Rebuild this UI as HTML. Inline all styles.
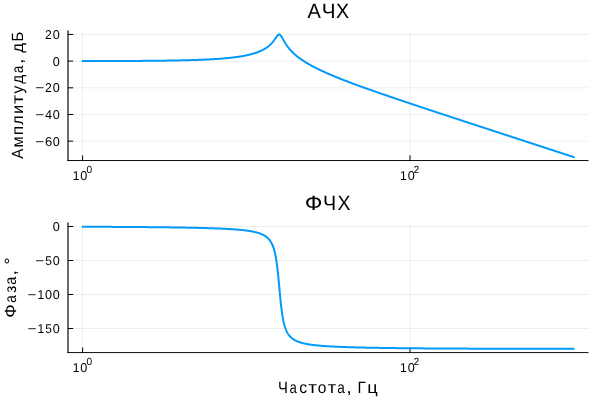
<!DOCTYPE html><html><head><meta charset="utf-8"><style>html,body{margin:0;padding:0;background:#fff;overflow:hidden}svg{display:block;will-change:transform}text{font-family:"Liberation Sans",sans-serif;fill:#000;text-rendering:geometricPrecision}</style></head><body>
<svg width="600" height="400" viewBox="0 0 600 400">
<rect width="600" height="400" fill="#fff"/>
<g stroke="#000" stroke-opacity="0.065" stroke-width="1.0"><line x1="82.60" y1="30.5" x2="82.60" y2="160.52"/><line x1="410.00" y1="30.5" x2="410.00" y2="160.52"/><line x1="68.0" y1="34.44" x2="588.5" y2="34.44"/><line x1="68.0" y1="61.12" x2="588.5" y2="61.12"/><line x1="68.0" y1="87.80" x2="588.5" y2="87.80"/><line x1="68.0" y1="114.49" x2="588.5" y2="114.49"/><line x1="68.0" y1="141.17" x2="588.5" y2="141.17"/></g>
<g stroke="#000" fill="none"><path stroke-width="1.17" d="M68.0 30.5V161.02"/><path stroke-width="0.95" d="M67.5 160.52H588.5"/>
<path stroke-width="1.0" d="M82.60 160.52V155.32M410.00 160.52V155.32M68.0 34.44H73.20M68.0 61.12H73.20M68.0 87.80H73.20M68.0 114.49H73.20M68.0 141.17H73.20"/></g>
<polyline fill="none" stroke="#009AFA" stroke-width="2.0" stroke-linejoin="round" stroke-linecap="round" points="82.60,61.07 82.76,61.07 82.93,61.07 83.09,61.07 83.26,61.07 83.42,61.07 83.58,61.07 83.75,61.07 83.91,61.07 84.07,61.07 84.24,61.07 84.40,61.07 84.57,61.07 84.73,61.07 84.89,61.07 85.06,61.07 85.22,61.07 85.38,61.07 85.55,61.07 85.71,61.07 85.88,61.07 86.04,61.07 86.20,61.07 86.37,61.07 86.53,61.07 86.69,61.07 86.86,61.07 87.02,61.07 87.19,61.07 87.35,61.07 87.51,61.07 87.68,61.07 87.84,61.07 88.00,61.07 88.17,61.07 88.33,61.07 88.50,61.07 88.66,61.07 88.82,61.07 88.99,61.07 89.15,61.07 89.31,61.06 89.48,61.06 89.64,61.06 89.81,61.06 89.97,61.06 90.13,61.06 90.30,61.06 90.46,61.06 90.62,61.06 90.79,61.06 90.95,61.06 91.12,61.06 91.28,61.06 91.44,61.06 91.61,61.06 91.77,61.06 91.93,61.06 92.10,61.06 92.26,61.06 92.43,61.06 92.59,61.06 92.75,61.06 92.92,61.06 93.08,61.06 93.24,61.06 93.41,61.06 93.57,61.06 93.74,61.06 93.90,61.06 94.06,61.06 94.23,61.06 94.39,61.06 94.55,61.06 94.72,61.06 94.88,61.06 95.05,61.06 95.21,61.05 95.37,61.05 95.54,61.05 95.70,61.05 95.86,61.05 96.03,61.05 96.19,61.05 96.36,61.05 96.52,61.05 96.68,61.05 96.85,61.05 97.01,61.05 97.17,61.05 97.34,61.05 97.50,61.05 97.67,61.05 97.83,61.05 97.99,61.05 98.16,61.05 98.32,61.05 98.48,61.05 98.65,61.05 98.81,61.05 98.98,61.05 99.14,61.05 99.30,61.05 99.47,61.05 99.63,61.05 99.79,61.05 99.96,61.05 100.12,61.05 100.29,61.04 100.45,61.04 100.61,61.04 100.78,61.04 100.94,61.04 101.10,61.04 101.27,61.04 101.43,61.04 101.60,61.04 101.76,61.04 101.92,61.04 102.09,61.04 102.25,61.04 102.41,61.04 102.58,61.04 102.74,61.04 102.91,61.04 103.07,61.04 103.23,61.04 103.40,61.04 103.56,61.04 103.72,61.04 103.89,61.04 104.05,61.04 104.22,61.04 104.38,61.04 104.54,61.04 104.71,61.03 104.87,61.03 105.03,61.03 105.20,61.03 105.36,61.03 105.53,61.03 105.69,61.03 105.85,61.03 106.02,61.03 106.18,61.03 106.34,61.03 106.51,61.03 106.67,61.03 106.84,61.03 107.00,61.03 107.16,61.03 107.33,61.03 107.49,61.03 107.65,61.03 107.82,61.03 107.98,61.03 108.15,61.03 108.31,61.03 108.47,61.03 108.64,61.02 108.80,61.02 108.96,61.02 109.13,61.02 109.29,61.02 109.46,61.02 109.62,61.02 109.78,61.02 109.95,61.02 110.11,61.02 110.27,61.02 110.44,61.02 110.60,61.02 110.77,61.02 110.93,61.02 111.09,61.02 111.26,61.02 111.42,61.02 111.58,61.02 111.75,61.02 111.91,61.02 112.08,61.02 112.24,61.01 112.40,61.01 112.57,61.01 112.73,61.01 112.89,61.01 113.06,61.01 113.22,61.01 113.39,61.01 113.55,61.01 113.71,61.01 113.88,61.01 114.04,61.01 114.20,61.01 114.37,61.01 114.53,61.01 114.70,61.01 114.86,61.01 115.02,61.01 115.19,61.01 115.35,61.01 115.51,61.00 115.68,61.00 115.84,61.00 116.01,61.00 116.17,61.00 116.33,61.00 116.50,61.00 116.66,61.00 116.82,61.00 116.99,61.00 117.15,61.00 117.32,61.00 117.48,61.00 117.64,61.00 117.81,61.00 117.97,61.00 118.13,61.00 118.30,61.00 118.46,60.99 118.63,60.99 118.79,60.99 118.95,60.99 119.12,60.99 119.28,60.99 119.44,60.99 119.61,60.99 119.77,60.99 119.94,60.99 120.10,60.99 120.26,60.99 120.43,60.99 120.59,60.99 120.75,60.99 120.92,60.99 121.08,60.98 121.25,60.98 121.41,60.98 121.57,60.98 121.74,60.98 121.90,60.98 122.06,60.98 122.23,60.98 122.39,60.98 122.56,60.98 122.72,60.98 122.88,60.98 123.05,60.98 123.21,60.98 123.37,60.98 123.54,60.98 123.70,60.97 123.87,60.97 124.03,60.97 124.19,60.97 124.36,60.97 124.52,60.97 124.68,60.97 124.85,60.97 125.01,60.97 125.18,60.97 125.34,60.97 125.50,60.97 125.67,60.97 125.83,60.97 125.99,60.96 126.16,60.96 126.32,60.96 126.49,60.96 126.65,60.96 126.81,60.96 126.98,60.96 127.14,60.96 127.31,60.96 127.47,60.96 127.63,60.96 127.80,60.96 127.96,60.96 128.12,60.96 128.29,60.95 128.45,60.95 128.62,60.95 128.78,60.95 128.94,60.95 129.11,60.95 129.27,60.95 129.43,60.95 129.60,60.95 129.76,60.95 129.93,60.95 130.09,60.95 130.25,60.94 130.42,60.94 130.58,60.94 130.74,60.94 130.91,60.94 131.07,60.94 131.24,60.94 131.40,60.94 131.56,60.94 131.73,60.94 131.89,60.94 132.05,60.94 132.22,60.93 132.38,60.93 132.55,60.93 132.71,60.93 132.87,60.93 133.04,60.93 133.20,60.93 133.36,60.93 133.53,60.93 133.69,60.93 133.86,60.93 134.02,60.92 134.18,60.92 134.35,60.92 134.51,60.92 134.67,60.92 134.84,60.92 135.00,60.92 135.17,60.92 135.33,60.92 135.49,60.92 135.66,60.92 135.82,60.91 135.98,60.91 136.15,60.91 136.31,60.91 136.48,60.91 136.64,60.91 136.80,60.91 136.97,60.91 137.13,60.91 137.29,60.91 137.46,60.91 137.62,60.90 137.79,60.90 137.95,60.90 138.11,60.90 138.28,60.90 138.44,60.90 138.60,60.90 138.77,60.90 138.93,60.90 139.10,60.89 139.26,60.89 139.42,60.89 139.59,60.89 139.75,60.89 139.91,60.89 140.08,60.89 140.24,60.89 140.41,60.89 140.57,60.89 140.73,60.88 140.90,60.88 141.06,60.88 141.22,60.88 141.39,60.88 141.55,60.88 141.72,60.88 141.88,60.88 142.04,60.88 142.21,60.87 142.37,60.87 142.53,60.87 142.70,60.87 142.86,60.87 143.03,60.87 143.19,60.87 143.35,60.87 143.52,60.86 143.68,60.86 143.84,60.86 144.01,60.86 144.17,60.86 144.34,60.86 144.50,60.86 144.66,60.86 144.83,60.85 144.99,60.85 145.15,60.85 145.32,60.85 145.48,60.85 145.65,60.85 145.81,60.85 145.97,60.85 146.14,60.84 146.30,60.84 146.46,60.84 146.63,60.84 146.79,60.84 146.96,60.84 147.12,60.84 147.28,60.84 147.45,60.83 147.61,60.83 147.77,60.83 147.94,60.83 148.10,60.83 148.27,60.83 148.43,60.83 148.59,60.82 148.76,60.82 148.92,60.82 149.08,60.82 149.25,60.82 149.41,60.82 149.58,60.82 149.74,60.82 149.90,60.81 150.07,60.81 150.23,60.81 150.39,60.81 150.56,60.81 150.72,60.81 150.89,60.80 151.05,60.80 151.21,60.80 151.38,60.80 151.54,60.80 151.70,60.80 151.87,60.80 152.03,60.79 152.20,60.79 152.36,60.79 152.52,60.79 152.69,60.79 152.85,60.79 153.01,60.79 153.18,60.78 153.34,60.78 153.51,60.78 153.67,60.78 153.83,60.78 154.00,60.78 154.16,60.77 154.32,60.77 154.49,60.77 154.65,60.77 154.82,60.77 154.98,60.77 155.14,60.76 155.31,60.76 155.47,60.76 155.63,60.76 155.80,60.76 155.96,60.76 156.13,60.75 156.29,60.75 156.45,60.75 156.62,60.75 156.78,60.75 156.94,60.75 157.11,60.74 157.27,60.74 157.44,60.74 157.60,60.74 157.76,60.74 157.93,60.73 158.09,60.73 158.25,60.73 158.42,60.73 158.58,60.73 158.75,60.73 158.91,60.72 159.07,60.72 159.24,60.72 159.40,60.72 159.56,60.72 159.73,60.71 159.89,60.71 160.06,60.71 160.22,60.71 160.38,60.71 160.55,60.70 160.71,60.70 160.87,60.70 161.04,60.70 161.20,60.70 161.37,60.69 161.53,60.69 161.69,60.69 161.86,60.69 162.02,60.69 162.18,60.68 162.35,60.68 162.51,60.68 162.68,60.68 162.84,60.68 163.00,60.67 163.17,60.67 163.33,60.67 163.49,60.67 163.66,60.67 163.82,60.66 163.99,60.66 164.15,60.66 164.31,60.66 164.48,60.66 164.64,60.65 164.80,60.65 164.97,60.65 165.13,60.65 165.30,60.64 165.46,60.64 165.62,60.64 165.79,60.64 165.95,60.64 166.11,60.63 166.28,60.63 166.44,60.63 166.61,60.63 166.77,60.62 166.93,60.62 167.10,60.62 167.26,60.62 167.42,60.61 167.59,60.61 167.75,60.61 167.92,60.61 168.08,60.60 168.24,60.60 168.41,60.60 168.57,60.60 168.73,60.59 168.90,60.59 169.06,60.59 169.23,60.59 169.39,60.58 169.55,60.58 169.72,60.58 169.88,60.58 170.04,60.57 170.21,60.57 170.37,60.57 170.54,60.57 170.70,60.56 170.86,60.56 171.03,60.56 171.19,60.56 171.35,60.55 171.52,60.55 171.68,60.55 171.85,60.55 172.01,60.54 172.17,60.54 172.34,60.54 172.50,60.53 172.67,60.53 172.83,60.53 172.99,60.53 173.16,60.52 173.32,60.52 173.48,60.52 173.65,60.51 173.81,60.51 173.98,60.51 174.14,60.51 174.30,60.50 174.47,60.50 174.63,60.50 174.79,60.49 174.96,60.49 175.12,60.49 175.29,60.49 175.45,60.48 175.61,60.48 175.78,60.48 175.94,60.47 176.10,60.47 176.27,60.47 176.43,60.46 176.60,60.46 176.76,60.46 176.92,60.45 177.09,60.45 177.25,60.45 177.41,60.45 177.58,60.44 177.74,60.44 177.91,60.44 178.07,60.43 178.23,60.43 178.40,60.43 178.56,60.42 178.72,60.42 178.89,60.42 179.05,60.41 179.22,60.41 179.38,60.41 179.54,60.40 179.71,60.40 179.87,60.40 180.03,60.39 180.20,60.39 180.36,60.39 180.53,60.38 180.69,60.38 180.85,60.37 181.02,60.37 181.18,60.37 181.34,60.36 181.51,60.36 181.67,60.36 181.84,60.35 182.00,60.35 182.16,60.35 182.33,60.34 182.49,60.34 182.65,60.33 182.82,60.33 182.98,60.33 183.15,60.32 183.31,60.32 183.47,60.32 183.64,60.31 183.80,60.31 183.96,60.30 184.13,60.30 184.29,60.30 184.46,60.29 184.62,60.29 184.78,60.28 184.95,60.28 185.11,60.28 185.27,60.27 185.44,60.27 185.60,60.26 185.77,60.26 185.93,60.26 186.09,60.25 186.26,60.25 186.42,60.24 186.58,60.24 186.75,60.23 186.91,60.23 187.08,60.23 187.24,60.22 187.40,60.22 187.57,60.21 187.73,60.21 187.89,60.20 188.06,60.20 188.22,60.20 188.39,60.19 188.55,60.19 188.71,60.18 188.88,60.18 189.04,60.17 189.20,60.17 189.37,60.16 189.53,60.16 189.70,60.16 189.86,60.15 190.02,60.15 190.19,60.14 190.35,60.14 190.51,60.13 190.68,60.13 190.84,60.12 191.01,60.12 191.17,60.11 191.33,60.11 191.50,60.10 191.66,60.10 191.82,60.09 191.99,60.09 192.15,60.08 192.32,60.08 192.48,60.07 192.64,60.07 192.81,60.06 192.97,60.06 193.13,60.05 193.30,60.05 193.46,60.04 193.63,60.04 193.79,60.03 193.95,60.03 194.12,60.02 194.28,60.02 194.44,60.01 194.61,60.01 194.77,60.00 194.94,59.99 195.10,59.99 195.26,59.98 195.43,59.98 195.59,59.97 195.75,59.97 195.92,59.96 196.08,59.96 196.25,59.95 196.41,59.94 196.57,59.94 196.74,59.93 196.90,59.93 197.06,59.92 197.23,59.92 197.39,59.91 197.56,59.90 197.72,59.90 197.88,59.89 198.05,59.89 198.21,59.88 198.37,59.87 198.54,59.87 198.70,59.86 198.87,59.86 199.03,59.85 199.19,59.84 199.36,59.84 199.52,59.83 199.68,59.82 199.85,59.82 200.01,59.81 200.18,59.81 200.34,59.80 200.50,59.79 200.67,59.79 200.83,59.78 200.99,59.77 201.16,59.77 201.32,59.76 201.49,59.75 201.65,59.75 201.81,59.74 201.98,59.73 202.14,59.73 202.30,59.72 202.47,59.71 202.63,59.71 202.80,59.70 202.96,59.69 203.12,59.68 203.29,59.68 203.45,59.67 203.61,59.66 203.78,59.66 203.94,59.65 204.11,59.64 204.27,59.63 204.43,59.63 204.60,59.62 204.76,59.61 204.92,59.60 205.09,59.60 205.25,59.59 205.42,59.58 205.58,59.57 205.74,59.57 205.91,59.56 206.07,59.55 206.23,59.54 206.40,59.54 206.56,59.53 206.73,59.52 206.89,59.51 207.05,59.50 207.22,59.50 207.38,59.49 207.54,59.48 207.71,59.47 207.87,59.46 208.04,59.46 208.20,59.45 208.36,59.44 208.53,59.43 208.69,59.42 208.85,59.41 209.02,59.41 209.18,59.40 209.35,59.39 209.51,59.38 209.67,59.37 209.84,59.36 210.00,59.35 210.16,59.34 210.33,59.34 210.49,59.33 210.66,59.32 210.82,59.31 210.98,59.30 211.15,59.29 211.31,59.28 211.47,59.27 211.64,59.26 211.80,59.25 211.97,59.24 212.13,59.24 212.29,59.23 212.46,59.22 212.62,59.21 212.78,59.20 212.95,59.19 213.11,59.18 213.28,59.17 213.44,59.16 213.60,59.15 213.77,59.14 213.93,59.13 214.09,59.12 214.26,59.11 214.42,59.10 214.59,59.09 214.75,59.08 214.91,59.07 215.08,59.06 215.24,59.05 215.40,59.04 215.57,59.03 215.73,59.02 215.90,59.00 216.06,58.99 216.22,58.98 216.39,58.97 216.55,58.96 216.72,58.95 216.88,58.94 217.04,58.93 217.21,58.92 217.37,58.91 217.53,58.90 217.70,58.88 217.86,58.87 218.03,58.86 218.19,58.85 218.35,58.84 218.52,58.83 218.68,58.81 218.84,58.80 219.01,58.79 219.17,58.78 219.34,58.77 219.50,58.75 219.66,58.74 219.83,58.73 219.99,58.72 220.15,58.71 220.32,58.69 220.48,58.68 220.65,58.67 220.81,58.66 220.97,58.64 221.14,58.63 221.30,58.62 221.46,58.61 221.63,58.59 221.79,58.58 221.96,58.57 222.12,58.55 222.28,58.54 222.45,58.53 222.61,58.51 222.77,58.50 222.94,58.49 223.10,58.47 223.27,58.46 223.43,58.44 223.59,58.43 223.76,58.42 223.92,58.40 224.08,58.39 224.25,58.37 224.41,58.36 224.58,58.35 224.74,58.33 224.90,58.32 225.07,58.30 225.23,58.29 225.39,58.27 225.56,58.26 225.72,58.24 225.89,58.23 226.05,58.21 226.21,58.20 226.38,58.18 226.54,58.17 226.70,58.15 226.87,58.14 227.03,58.12 227.20,58.10 227.36,58.09 227.52,58.07 227.69,58.06 227.85,58.04 228.01,58.02 228.18,58.01 228.34,57.99 228.51,57.97 228.67,57.96 228.83,57.94 229.00,57.92 229.16,57.91 229.32,57.89 229.49,57.87 229.65,57.86 229.82,57.84 229.98,57.82 230.14,57.80 230.31,57.79 230.47,57.77 230.63,57.75 230.80,57.73 230.96,57.71 231.13,57.69 231.29,57.68 231.45,57.66 231.62,57.64 231.78,57.62 231.94,57.60 232.11,57.58 232.27,57.56 232.44,57.54 232.60,57.53 232.76,57.51 232.93,57.49 233.09,57.47 233.25,57.45 233.42,57.43 233.58,57.41 233.75,57.39 233.91,57.37 234.07,57.35 234.24,57.33 234.40,57.30 234.56,57.28 234.73,57.26 234.89,57.24 235.06,57.22 235.22,57.20 235.38,57.18 235.55,57.16 235.71,57.13 235.87,57.11 236.04,57.09 236.20,57.07 236.37,57.05 236.53,57.02 236.69,57.00 236.86,56.98 237.02,56.96 237.18,56.93 237.35,56.91 237.51,56.89 237.68,56.86 237.84,56.84 238.00,56.81 238.17,56.79 238.33,56.77 238.49,56.74 238.66,56.72 238.82,56.69 238.99,56.67 239.15,56.64 239.31,56.62 239.48,56.59 239.64,56.57 239.80,56.54 239.97,56.52 240.13,56.49 240.30,56.46 240.46,56.44 240.62,56.41 240.79,56.38 240.95,56.36 241.11,56.33 241.28,56.30 241.44,56.27 241.61,56.25 241.77,56.22 241.93,56.19 242.10,56.16 242.26,56.13 242.42,56.11 242.59,56.08 242.75,56.05 242.92,56.02 243.08,55.99 243.24,55.96 243.41,55.93 243.57,55.90 243.73,55.87 243.90,55.84 244.06,55.81 244.23,55.78 244.39,55.74 244.55,55.71 244.72,55.68 244.88,55.65 245.04,55.62 245.21,55.58 245.37,55.55 245.54,55.52 245.70,55.49 245.86,55.45 246.03,55.42 246.19,55.39 246.35,55.35 246.52,55.32 246.68,55.28 246.85,55.25 247.01,55.21 247.17,55.18 247.34,55.14 247.50,55.11 247.66,55.07 247.83,55.03 247.99,55.00 248.16,54.96 248.32,54.92 248.48,54.88 248.65,54.85 248.81,54.81 248.97,54.77 249.14,54.73 249.30,54.69 249.47,54.65 249.63,54.61 249.79,54.57 249.96,54.53 250.12,54.49 250.28,54.45 250.45,54.41 250.61,54.37 250.78,54.32 250.94,54.28 251.10,54.24 251.27,54.20 251.43,54.15 251.59,54.11 251.76,54.06 251.92,54.02 252.09,53.97 252.25,53.93 252.41,53.88 252.58,53.84 252.74,53.79 252.90,53.74 253.07,53.70 253.23,53.65 253.40,53.60 253.56,53.55 253.72,53.50 253.89,53.45 254.05,53.40 254.21,53.35 254.38,53.30 254.54,53.25 254.71,53.20 254.87,53.15 255.03,53.10 255.20,53.04 255.36,52.99 255.52,52.93 255.69,52.88 255.85,52.83 256.02,52.77 256.18,52.71 256.34,52.66 256.51,52.60 256.67,52.54 256.83,52.48 257.00,52.43 257.16,52.37 257.33,52.31 257.49,52.25 257.65,52.19 257.82,52.12 257.98,52.06 258.14,52.00 258.31,51.94 258.47,51.87 258.64,51.81 258.80,51.74 258.96,51.68 259.13,51.61 259.29,51.54 259.45,51.47 259.62,51.41 259.78,51.34 259.95,51.27 260.11,51.20 260.27,51.12 260.44,51.05 260.60,50.98 260.76,50.91 260.93,50.83 261.09,50.76 261.26,50.68 261.42,50.60 261.58,50.52 261.75,50.45 261.91,50.37 262.08,50.29 262.24,50.20 262.40,50.12 262.57,50.04 262.73,49.95 262.89,49.87 263.06,49.78 263.22,49.70 263.39,49.61 263.55,49.52 263.71,49.43 263.88,49.34 264.04,49.24 264.20,49.15 264.37,49.06 264.53,48.96 264.70,48.86 264.86,48.77 265.02,48.67 265.19,48.57 265.35,48.46 265.51,48.36 265.68,48.26 265.84,48.15 266.01,48.04 266.17,47.94 266.33,47.83 266.50,47.71 266.66,47.60 266.82,47.49 266.99,47.37 267.15,47.25 267.32,47.13 267.48,47.01 267.64,46.89 267.81,46.77 267.97,46.64 268.13,46.51 268.30,46.38 268.46,46.25 268.63,46.12 268.79,45.98 268.95,45.85 269.12,45.71 269.28,45.57 269.44,45.42 269.61,45.28 269.77,45.13 269.94,44.98 270.10,44.83 270.26,44.67 270.43,44.52 270.59,44.36 270.75,44.19 270.92,44.03 271.08,43.86 271.25,43.69 271.41,43.52 271.57,43.35 271.74,43.17 271.90,42.99 272.06,42.81 272.23,42.62 272.39,42.43 272.56,42.24 272.72,42.04 272.88,41.84 273.05,41.64 273.21,41.44 273.37,41.23 273.54,41.02 273.70,40.81 273.87,40.59 274.03,40.37 274.19,40.15 274.36,39.93 274.52,39.70 274.68,39.47 274.85,39.24 275.01,39.00 275.18,38.76 275.34,38.53 275.50,38.29 275.67,38.05 275.83,37.81 275.99,37.57 276.16,37.33 276.32,37.09 276.49,36.85 276.65,36.62 276.81,36.39 276.98,36.17 277.14,35.95 277.30,35.75 277.47,35.55 277.63,35.36 277.80,35.18 277.96,35.02 278.12,34.88 278.29,34.75 278.45,34.64 278.61,34.55 278.78,34.49 278.94,34.44 279.11,34.42 279.27,34.43 279.43,34.46 279.60,34.51 279.76,34.59 279.92,34.69 280.09,34.81 280.25,34.96 280.42,35.12 280.58,35.31 280.74,35.51 280.91,35.72 281.07,35.95 281.23,36.20 281.40,36.45 281.56,36.71 281.73,36.98 281.89,37.26 282.05,37.54 282.22,37.83 282.38,38.12 282.54,38.41 282.71,38.70 282.87,39.00 283.04,39.29 283.20,39.58 283.36,39.88 283.53,40.17 283.69,40.46 283.85,40.75 284.02,41.03 284.18,41.31 284.35,41.59 284.51,41.87 284.67,42.15 284.84,42.42 285.00,42.69 285.16,42.96 285.33,43.22 285.49,43.48 285.66,43.74 285.82,43.99 285.98,44.24 286.15,44.49 286.31,44.73 286.47,44.98 286.64,45.21 286.80,45.45 286.97,45.68 287.13,45.92 287.29,46.14 287.46,46.37 287.62,46.59 287.78,46.81 287.95,47.03 288.11,47.24 288.28,47.46 288.44,47.67 288.60,47.87 288.77,48.08 288.93,48.28 289.09,48.48 289.26,48.68 289.42,48.88 289.59,49.07 289.75,49.26 289.91,49.45 290.08,49.64 290.24,49.83 290.40,50.01 290.57,50.19 290.73,50.38 290.90,50.55 291.06,50.73 291.22,50.91 291.39,51.08 291.55,51.25 291.71,51.42 291.88,51.59 292.04,51.76 292.21,51.93 292.37,52.09 292.53,52.25 292.70,52.42 292.86,52.58 293.02,52.74 293.19,52.89 293.35,53.05 293.52,53.20 293.68,53.36 293.84,53.51 294.01,53.66 294.17,53.81 294.33,53.96 294.50,54.11 294.66,54.26 294.83,54.40 294.99,54.55 295.15,54.69 295.32,54.83 295.48,54.97 295.64,55.11 295.81,55.25 295.97,55.39 296.14,55.53 296.30,55.66 296.46,55.80 296.63,55.93 296.79,56.07 296.95,56.20 297.12,56.33 297.28,56.46 297.45,56.59 297.61,56.72 297.77,56.85 297.94,56.98 298.10,57.11 298.26,57.23 298.43,57.36 298.59,57.48 298.76,57.61 298.92,57.73 299.08,57.85 299.25,57.98 299.41,58.10 299.57,58.22 299.74,58.34 299.90,58.46 300.07,58.58 300.23,58.69 300.39,58.81 300.56,58.93 300.72,59.04 300.88,59.16 301.05,59.27 301.21,59.39 301.38,59.50 301.54,59.61 301.70,59.73 301.87,59.84 302.03,59.95 302.19,60.06 302.36,60.17 302.52,60.28 302.69,60.39 302.85,60.50 303.01,60.61 303.18,60.72 303.34,60.82 303.50,60.93 303.67,61.04 303.83,61.14 304.00,61.25 304.16,61.35 304.32,61.46 304.49,61.56 304.65,61.66 304.81,61.77 304.98,61.87 305.14,61.97 305.31,62.07 305.47,62.18 305.63,62.28 305.80,62.38 305.96,62.48 306.13,62.58 306.29,62.68 306.45,62.78 306.62,62.87 306.78,62.97 306.94,63.07 307.11,63.17 307.27,63.27 307.44,63.36 307.60,63.46 307.76,63.55 307.93,63.65 308.09,63.75 308.25,63.84 308.42,63.94 308.58,64.03 308.75,64.12 308.91,64.22 309.07,64.31 309.24,64.40 309.40,64.50 309.56,64.59 309.73,64.68 309.89,64.77 310.06,64.87 310.22,64.96 310.38,65.05 310.55,65.14 310.71,65.23 310.87,65.32 311.04,65.41 311.20,65.50 311.37,65.59 311.53,65.68 311.69,65.77 311.86,65.85 312.02,65.94 312.18,66.03 312.35,66.12 312.51,66.21 312.68,66.29 312.84,66.38 313.00,66.47 313.17,66.55 313.33,66.64 313.49,66.73 313.66,66.81 313.82,66.90 313.99,66.98 314.15,67.07 314.31,67.15 314.48,67.24 314.64,67.32 314.80,67.40 314.97,67.49 315.13,67.57 315.30,67.66 315.46,67.74 315.62,67.82 315.79,67.91 315.95,67.99 316.11,68.07 316.28,68.15 316.44,68.23 316.61,68.32 316.77,68.40 316.93,68.48 317.10,68.56 317.26,68.64 317.42,68.72 317.59,68.80 317.75,68.88 317.92,68.96 318.08,69.04 318.24,69.12 318.41,69.20 318.57,69.28 318.73,69.36 318.90,69.44 319.06,69.52 319.23,69.60 319.39,69.68 319.55,69.76 319.72,69.84 319.88,69.91 320.04,69.99 320.21,70.07 320.37,70.15 320.54,70.22 320.70,70.30 320.86,70.38 321.03,70.46 321.19,70.53 321.35,70.61 321.52,70.69 321.68,70.76 321.85,70.84 322.01,70.92 322.17,70.99 322.34,71.07 322.50,71.14 322.66,71.22 322.83,71.29 322.99,71.37 323.16,71.44 323.32,71.52 323.48,71.59 323.65,71.67 323.81,71.74 323.97,71.82 324.14,71.89 324.30,71.97 324.47,72.04 324.63,72.11 324.79,72.19 324.96,72.26 325.12,72.34 325.28,72.41 325.45,72.48 325.61,72.56 325.78,72.63 325.94,72.70 326.10,72.77 326.27,72.85 326.43,72.92 326.59,72.99 326.76,73.06 326.92,73.14 327.09,73.21 327.25,73.28 327.41,73.35 327.58,73.42 327.74,73.50 327.90,73.57 328.07,73.64 328.23,73.71 328.40,73.78 328.56,73.85 328.72,73.92 328.89,73.99 329.05,74.06 329.21,74.14 329.38,74.21 329.54,74.28 329.71,74.35 329.87,74.42 330.03,74.49 330.20,74.56 330.36,74.63 330.52,74.70 330.69,74.77 330.85,74.84 331.02,74.91 331.18,74.98 331.34,75.04 331.51,75.11 331.67,75.18 331.83,75.25 332.00,75.32 332.16,75.39 332.33,75.46 332.49,75.53 332.65,75.60 332.82,75.66 332.98,75.73 333.14,75.80 333.31,75.87 333.47,75.94 333.64,76.01 333.80,76.07 333.96,76.14 334.13,76.21 334.29,76.28 334.45,76.35 334.62,76.41 334.78,76.48 334.95,76.55 335.11,76.62 335.27,76.68 335.44,76.75 335.60,76.82 335.76,76.88 335.93,76.95 336.09,77.02 336.26,77.08 336.42,77.15 336.58,77.22 336.75,77.28 336.91,77.35 337.07,77.42 337.24,77.48 337.40,77.55 337.57,77.62 337.73,77.68 337.89,77.75 338.06,77.81 338.22,77.88 338.38,77.95 338.55,78.01 338.71,78.08 338.88,78.14 339.04,78.21 339.20,78.27 339.37,78.34 339.53,78.40 339.69,78.47 339.86,78.53 340.02,78.60 340.19,78.67 340.35,78.73 340.51,78.80 340.68,78.86 340.84,78.92 341.00,78.99 341.17,79.05 341.33,79.12 341.50,79.18 341.66,79.25 341.82,79.31 341.99,79.38 342.15,79.44 342.31,79.51 342.48,79.57 342.64,79.63 342.81,79.70 342.97,79.76 343.13,79.83 343.30,79.89 343.46,79.95 343.62,80.02 343.79,80.08 343.95,80.14 344.12,80.21 344.28,80.27 344.44,80.34 344.61,80.40 344.77,80.46 344.93,80.53 345.10,80.59 345.26,80.65 345.43,80.72 345.59,80.78 345.75,80.84 345.92,80.90 346.08,80.97 346.24,81.03 346.41,81.09 346.57,81.16 346.74,81.22 346.90,81.28 347.06,81.34 347.23,81.41 347.39,81.47 347.55,81.53 347.72,81.59 347.88,81.66 348.05,81.72 348.21,81.78 348.37,81.84 348.54,81.91 348.70,81.97 348.86,82.03 349.03,82.09 349.19,82.15 349.36,82.22 349.52,82.28 349.68,82.34 349.85,82.40 350.01,82.46 350.17,82.53 350.34,82.59 350.50,82.65 350.67,82.71 350.83,82.77 350.99,82.83 351.16,82.90 351.32,82.96 351.49,83.02 351.65,83.08 351.81,83.14 351.98,83.20 352.14,83.26 352.30,83.32 352.47,83.39 352.63,83.45 352.80,83.51 352.96,83.57 353.12,83.63 353.29,83.69 353.45,83.75 353.61,83.81 353.78,83.87 353.94,83.93 354.11,84.00 354.27,84.06 354.43,84.12 354.60,84.18 354.76,84.24 354.92,84.30 355.09,84.36 355.25,84.42 355.42,84.48 355.58,84.54 355.74,84.60 355.91,84.66 356.07,84.72 356.23,84.78 356.40,84.84 356.56,84.90 356.73,84.96 356.89,85.02 357.05,85.08 357.22,85.14 357.38,85.20 357.54,85.26 357.71,85.32 357.87,85.38 358.04,85.44 358.20,85.50 358.36,85.56 358.53,85.62 358.69,85.68 358.85,85.74 359.02,85.80 359.18,85.86 359.35,85.92 359.51,85.98 359.67,86.04 359.84,86.10 360.00,86.16 360.16,86.22 360.33,86.28 360.49,86.34 360.66,86.40 360.82,86.46 360.98,86.52 361.15,86.58 361.31,86.63 361.47,86.69 361.64,86.75 361.80,86.81 361.97,86.87 362.13,86.93 362.29,86.99 362.46,87.05 362.62,87.11 362.78,87.17 362.95,87.23 363.11,87.28 363.28,87.34 363.44,87.40 363.60,87.46 363.77,87.52 363.93,87.58 364.09,87.64 364.26,87.70 364.42,87.76 364.59,87.81 364.75,87.87 364.91,87.93 365.08,87.99 365.24,88.05 365.40,88.11 365.57,88.17 365.73,88.22 365.90,88.28 366.06,88.34 366.22,88.40 366.39,88.46 366.55,88.52 366.71,88.57 366.88,88.63 367.04,88.69 367.21,88.75 367.37,88.81 367.53,88.87 367.70,88.92 367.86,88.98 368.02,89.04 368.19,89.10 368.35,89.16 368.52,89.21 368.68,89.27 368.84,89.33 369.01,89.39 369.17,89.45 369.33,89.50 369.50,89.56 369.66,89.62 369.83,89.68 369.99,89.74 370.15,89.79 370.32,89.85 370.48,89.91 370.64,89.97 370.81,90.03 370.97,90.08 371.14,90.14 371.30,90.20 371.46,90.26 371.63,90.31 371.79,90.37 371.95,90.43 372.12,90.49 372.28,90.54 372.45,90.60 372.61,90.66 372.77,90.72 372.94,90.77 373.10,90.83 373.26,90.89 373.43,90.95 373.59,91.00 373.76,91.06 373.92,91.12 374.08,91.18 374.25,91.23 374.41,91.29 374.57,91.35 374.74,91.41 374.90,91.46 375.07,91.52 375.23,91.58 375.39,91.64 375.56,91.69 375.72,91.75 375.88,91.81 376.05,91.86 376.21,91.92 376.38,91.98 376.54,92.04 376.70,92.09 376.87,92.15 377.03,92.21 377.19,92.26 377.36,92.32 377.52,92.38 377.69,92.43 377.85,92.49 378.01,92.55 378.18,92.60 378.34,92.66 378.50,92.72 378.67,92.78 378.83,92.83 379.00,92.89 379.16,92.95 379.32,93.00 379.49,93.06 379.65,93.12 379.81,93.17 379.98,93.23 380.14,93.29 380.31,93.34 380.47,93.40 380.63,93.46 380.80,93.51 380.96,93.57 381.12,93.63 381.29,93.68 381.45,93.74 381.62,93.80 381.78,93.85 381.94,93.91 382.11,93.97 382.27,94.02 382.43,94.08 382.60,94.14 382.76,94.19 382.93,94.25 383.09,94.30 383.25,94.36 383.42,94.42 383.58,94.47 383.74,94.53 383.91,94.59 384.07,94.64 384.24,94.70 384.40,94.76 384.56,94.81 384.73,94.87 384.89,94.92 385.05,94.98 385.22,95.04 385.38,95.09 385.55,95.15 385.71,95.21 385.87,95.26 386.04,95.32 386.20,95.37 386.36,95.43 386.53,95.49 386.69,95.54 386.86,95.60 387.02,95.65 387.18,95.71 387.35,95.77 387.51,95.82 387.67,95.88 387.84,95.93 388.00,95.99 388.17,96.05 388.33,96.10 388.49,96.16 388.66,96.21 388.82,96.27 388.98,96.33 389.15,96.38 389.31,96.44 389.48,96.49 389.64,96.55 389.80,96.61 389.97,96.66 390.13,96.72 390.29,96.77 390.46,96.83 390.62,96.89 390.79,96.94 390.95,97.00 391.11,97.05 391.28,97.11 391.44,97.16 391.60,97.22 391.77,97.28 391.93,97.33 392.10,97.39 392.26,97.44 392.42,97.50 392.59,97.55 392.75,97.61 392.91,97.67 393.08,97.72 393.24,97.78 393.41,97.83 393.57,97.89 393.73,97.94 393.90,98.00 394.06,98.05 394.22,98.11 394.39,98.17 394.55,98.22 394.72,98.28 394.88,98.33 395.04,98.39 395.21,98.44 395.37,98.50 395.54,98.55 395.70,98.61 395.86,98.67 396.03,98.72 396.19,98.78 396.35,98.83 396.52,98.89 396.68,98.94 396.85,99.00 397.01,99.05 397.17,99.11 397.34,99.16 397.50,99.22 397.66,99.27 397.83,99.33 397.99,99.39 398.16,99.44 398.32,99.50 398.48,99.55 398.65,99.61 398.81,99.66 398.97,99.72 399.14,99.77 399.30,99.83 399.47,99.88 399.63,99.94 399.79,99.99 399.96,100.05 400.12,100.10 400.28,100.16 400.45,100.21 400.61,100.27 400.78,100.32 400.94,100.38 401.10,100.44 401.27,100.49 401.43,100.55 401.59,100.60 401.76,100.66 401.92,100.71 402.09,100.77 402.25,100.82 402.41,100.88 402.58,100.93 402.74,100.99 402.90,101.04 403.07,101.10 403.23,101.15 403.40,101.21 403.56,101.26 403.72,101.32 403.89,101.37 404.05,101.43 404.21,101.48 404.38,101.54 404.54,101.59 404.71,101.65 404.87,101.70 405.03,101.76 405.20,101.81 405.36,101.87 405.52,101.92 405.69,101.98 405.85,102.03 406.02,102.09 406.18,102.14 406.34,102.20 406.51,102.25 406.67,102.31 406.83,102.36 407.00,102.42 407.16,102.47 407.33,102.53 407.49,102.58 407.65,102.64 407.82,102.69 407.98,102.75 408.14,102.80 408.31,102.86 408.47,102.91 408.64,102.96 408.80,103.02 408.96,103.07 409.13,103.13 409.29,103.18 409.45,103.24 409.62,103.29 409.78,103.35 409.95,103.40 410.11,103.46 410.27,103.51 410.44,103.57 410.60,103.62 410.76,103.68 410.93,103.73 411.09,103.79 411.26,103.84 411.42,103.90 411.58,103.95 411.75,104.01 411.91,104.06 412.07,104.11 412.24,104.17 412.40,104.22 412.57,104.28 412.73,104.33 412.89,104.39 413.06,104.44 413.22,104.50 413.38,104.55 413.55,104.61 413.71,104.66 413.88,104.72 414.04,104.77 414.20,104.83 414.37,104.88 414.53,104.93 414.69,104.99 414.86,105.04 415.02,105.10 415.19,105.15 415.35,105.21 415.51,105.26 415.68,105.32 415.84,105.37 416.00,105.43 416.17,105.48 416.33,105.53 416.50,105.59 416.66,105.64 416.82,105.70 416.99,105.75 417.15,105.81 417.31,105.86 417.48,105.92 417.64,105.97 417.81,106.03 417.97,106.08 418.13,106.13 418.30,106.19 418.46,106.24 418.62,106.30 418.79,106.35 418.95,106.41 419.12,106.46 419.28,106.52 419.44,106.57 419.61,106.62 419.77,106.68 419.93,106.73 420.10,106.79 420.26,106.84 420.43,106.90 420.59,106.95 420.75,107.01 420.92,107.06 421.08,107.11 421.24,107.17 421.41,107.22 421.57,107.28 421.74,107.33 421.90,107.39 422.06,107.44 422.23,107.49 422.39,107.55 422.55,107.60 422.72,107.66 422.88,107.71 423.05,107.77 423.21,107.82 423.37,107.87 423.54,107.93 423.70,107.98 423.86,108.04 424.03,108.09 424.19,108.15 424.36,108.20 424.52,108.26 424.68,108.31 424.85,108.36 425.01,108.42 425.17,108.47 425.34,108.53 425.50,108.58 425.67,108.64 425.83,108.69 425.99,108.74 426.16,108.80 426.32,108.85 426.48,108.91 426.65,108.96 426.81,109.01 426.98,109.07 427.14,109.12 427.30,109.18 427.47,109.23 427.63,109.29 427.79,109.34 427.96,109.39 428.12,109.45 428.29,109.50 428.45,109.56 428.61,109.61 428.78,109.67 428.94,109.72 429.10,109.77 429.27,109.83 429.43,109.88 429.60,109.94 429.76,109.99 429.92,110.04 430.09,110.10 430.25,110.15 430.41,110.21 430.58,110.26 430.74,110.32 430.91,110.37 431.07,110.42 431.23,110.48 431.40,110.53 431.56,110.59 431.72,110.64 431.89,110.69 432.05,110.75 432.22,110.80 432.38,110.86 432.54,110.91 432.71,110.96 432.87,111.02 433.03,111.07 433.20,111.13 433.36,111.18 433.53,111.24 433.69,111.29 433.85,111.34 434.02,111.40 434.18,111.45 434.34,111.51 434.51,111.56 434.67,111.61 434.84,111.67 435.00,111.72 435.16,111.78 435.33,111.83 435.49,111.88 435.65,111.94 435.82,111.99 435.98,112.05 436.15,112.10 436.31,112.15 436.47,112.21 436.64,112.26 436.80,112.32 436.96,112.37 437.13,112.42 437.29,112.48 437.46,112.53 437.62,112.59 437.78,112.64 437.95,112.69 438.11,112.75 438.27,112.80 438.44,112.86 438.60,112.91 438.77,112.96 438.93,113.02 439.09,113.07 439.26,113.13 439.42,113.18 439.58,113.23 439.75,113.29 439.91,113.34 440.08,113.40 440.24,113.45 440.40,113.50 440.57,113.56 440.73,113.61 440.90,113.67 441.06,113.72 441.22,113.77 441.39,113.83 441.55,113.88 441.71,113.94 441.88,113.99 442.04,114.04 442.21,114.10 442.37,114.15 442.53,114.21 442.70,114.26 442.86,114.31 443.02,114.37 443.19,114.42 443.35,114.48 443.52,114.53 443.68,114.58 443.84,114.64 444.01,114.69 444.17,114.74 444.33,114.80 444.50,114.85 444.66,114.91 444.83,114.96 444.99,115.01 445.15,115.07 445.32,115.12 445.48,115.18 445.64,115.23 445.81,115.28 445.97,115.34 446.14,115.39 446.30,115.45 446.46,115.50 446.63,115.55 446.79,115.61 446.95,115.66 447.12,115.71 447.28,115.77 447.45,115.82 447.61,115.88 447.77,115.93 447.94,115.98 448.10,116.04 448.26,116.09 448.43,116.15 448.59,116.20 448.76,116.25 448.92,116.31 449.08,116.36 449.25,116.41 449.41,116.47 449.57,116.52 449.74,116.58 449.90,116.63 450.07,116.68 450.23,116.74 450.39,116.79 450.56,116.85 450.72,116.90 450.88,116.95 451.05,117.01 451.21,117.06 451.38,117.11 451.54,117.17 451.70,117.22 451.87,117.28 452.03,117.33 452.19,117.38 452.36,117.44 452.52,117.49 452.69,117.54 452.85,117.60 453.01,117.65 453.18,117.71 453.34,117.76 453.50,117.81 453.67,117.87 453.83,117.92 454.00,117.98 454.16,118.03 454.32,118.08 454.49,118.14 454.65,118.19 454.81,118.24 454.98,118.30 455.14,118.35 455.31,118.41 455.47,118.46 455.63,118.51 455.80,118.57 455.96,118.62 456.12,118.67 456.29,118.73 456.45,118.78 456.62,118.84 456.78,118.89 456.94,118.94 457.11,119.00 457.27,119.05 457.43,119.10 457.60,119.16 457.76,119.21 457.93,119.27 458.09,119.32 458.25,119.37 458.42,119.43 458.58,119.48 458.74,119.53 458.91,119.59 459.07,119.64 459.24,119.70 459.40,119.75 459.56,119.80 459.73,119.86 459.89,119.91 460.05,119.96 460.22,120.02 460.38,120.07 460.55,120.13 460.71,120.18 460.87,120.23 461.04,120.29 461.20,120.34 461.36,120.39 461.53,120.45 461.69,120.50 461.86,120.55 462.02,120.61 462.18,120.66 462.35,120.72 462.51,120.77 462.67,120.82 462.84,120.88 463.00,120.93 463.17,120.98 463.33,121.04 463.49,121.09 463.66,121.15 463.82,121.20 463.98,121.25 464.15,121.31 464.31,121.36 464.48,121.41 464.64,121.47 464.80,121.52 464.97,121.57 465.13,121.63 465.29,121.68 465.46,121.74 465.62,121.79 465.79,121.84 465.95,121.90 466.11,121.95 466.28,122.00 466.44,122.06 466.60,122.11 466.77,122.17 466.93,122.22 467.10,122.27 467.26,122.33 467.42,122.38 467.59,122.43 467.75,122.49 467.91,122.54 468.08,122.59 468.24,122.65 468.41,122.70 468.57,122.76 468.73,122.81 468.90,122.86 469.06,122.92 469.22,122.97 469.39,123.02 469.55,123.08 469.72,123.13 469.88,123.18 470.04,123.24 470.21,123.29 470.37,123.35 470.53,123.40 470.70,123.45 470.86,123.51 471.03,123.56 471.19,123.61 471.35,123.67 471.52,123.72 471.68,123.77 471.84,123.83 472.01,123.88 472.17,123.94 472.34,123.99 472.50,124.04 472.66,124.10 472.83,124.15 472.99,124.20 473.15,124.26 473.32,124.31 473.48,124.36 473.65,124.42 473.81,124.47 473.97,124.52 474.14,124.58 474.30,124.63 474.46,124.69 474.63,124.74 474.79,124.79 474.96,124.85 475.12,124.90 475.28,124.95 475.45,125.01 475.61,125.06 475.77,125.11 475.94,125.17 476.10,125.22 476.27,125.28 476.43,125.33 476.59,125.38 476.76,125.44 476.92,125.49 477.08,125.54 477.25,125.60 477.41,125.65 477.58,125.70 477.74,125.76 477.90,125.81 478.07,125.86 478.23,125.92 478.39,125.97 478.56,126.03 478.72,126.08 478.89,126.13 479.05,126.19 479.21,126.24 479.38,126.29 479.54,126.35 479.70,126.40 479.87,126.45 480.03,126.51 480.20,126.56 480.36,126.61 480.52,126.67 480.69,126.72 480.85,126.78 481.01,126.83 481.18,126.88 481.34,126.94 481.51,126.99 481.67,127.04 481.83,127.10 482.00,127.15 482.16,127.20 482.32,127.26 482.49,127.31 482.65,127.36 482.82,127.42 482.98,127.47 483.14,127.53 483.31,127.58 483.47,127.63 483.63,127.69 483.80,127.74 483.96,127.79 484.13,127.85 484.29,127.90 484.45,127.95 484.62,128.01 484.78,128.06 484.95,128.11 485.11,128.17 485.27,128.22 485.44,128.28 485.60,128.33 485.76,128.38 485.93,128.44 486.09,128.49 486.26,128.54 486.42,128.60 486.58,128.65 486.75,128.70 486.91,128.76 487.07,128.81 487.24,128.86 487.40,128.92 487.57,128.97 487.73,129.02 487.89,129.08 488.06,129.13 488.22,129.19 488.38,129.24 488.55,129.29 488.71,129.35 488.88,129.40 489.04,129.45 489.20,129.51 489.37,129.56 489.53,129.61 489.69,129.67 489.86,129.72 490.02,129.77 490.19,129.83 490.35,129.88 490.51,129.93 490.68,129.99 490.84,130.04 491.00,130.10 491.17,130.15 491.33,130.20 491.50,130.26 491.66,130.31 491.82,130.36 491.99,130.42 492.15,130.47 492.31,130.52 492.48,130.58 492.64,130.63 492.81,130.68 492.97,130.74 493.13,130.79 493.30,130.84 493.46,130.90 493.62,130.95 493.79,131.01 493.95,131.06 494.12,131.11 494.28,131.17 494.44,131.22 494.61,131.27 494.77,131.33 494.93,131.38 495.10,131.43 495.26,131.49 495.43,131.54 495.59,131.59 495.75,131.65 495.92,131.70 496.08,131.75 496.24,131.81 496.41,131.86 496.57,131.91 496.74,131.97 496.90,132.02 497.06,132.08 497.23,132.13 497.39,132.18 497.55,132.24 497.72,132.29 497.88,132.34 498.05,132.40 498.21,132.45 498.37,132.50 498.54,132.56 498.70,132.61 498.86,132.66 499.03,132.72 499.19,132.77 499.36,132.82 499.52,132.88 499.68,132.93 499.85,132.98 500.01,133.04 500.17,133.09 500.34,133.15 500.50,133.20 500.67,133.25 500.83,133.31 500.99,133.36 501.16,133.41 501.32,133.47 501.48,133.52 501.65,133.57 501.81,133.63 501.98,133.68 502.14,133.73 502.30,133.79 502.47,133.84 502.63,133.89 502.79,133.95 502.96,134.00 503.12,134.05 503.29,134.11 503.45,134.16 503.61,134.22 503.78,134.27 503.94,134.32 504.10,134.38 504.27,134.43 504.43,134.48 504.60,134.54 504.76,134.59 504.92,134.64 505.09,134.70 505.25,134.75 505.41,134.80 505.58,134.86 505.74,134.91 505.91,134.96 506.07,135.02 506.23,135.07 506.40,135.12 506.56,135.18 506.72,135.23 506.89,135.28 507.05,135.34 507.22,135.39 507.38,135.45 507.54,135.50 507.71,135.55 507.87,135.61 508.03,135.66 508.20,135.71 508.36,135.77 508.53,135.82 508.69,135.87 508.85,135.93 509.02,135.98 509.18,136.03 509.34,136.09 509.51,136.14 509.67,136.19 509.84,136.25 510.00,136.30 510.16,136.35 510.33,136.41 510.49,136.46 510.65,136.51 510.82,136.57 510.98,136.62 511.15,136.67 511.31,136.73 511.47,136.78 511.64,136.84 511.80,136.89 511.96,136.94 512.13,137.00 512.29,137.05 512.46,137.10 512.62,137.16 512.78,137.21 512.95,137.26 513.11,137.32 513.27,137.37 513.44,137.42 513.60,137.48 513.77,137.53 513.93,137.58 514.09,137.64 514.26,137.69 514.42,137.74 514.58,137.80 514.75,137.85 514.91,137.90 515.08,137.96 515.24,138.01 515.40,138.06 515.57,138.12 515.73,138.17 515.89,138.23 516.06,138.28 516.22,138.33 516.39,138.39 516.55,138.44 516.71,138.49 516.88,138.55 517.04,138.60 517.20,138.65 517.37,138.71 517.53,138.76 517.70,138.81 517.86,138.87 518.02,138.92 518.19,138.97 518.35,139.03 518.51,139.08 518.68,139.13 518.84,139.19 519.01,139.24 519.17,139.29 519.33,139.35 519.50,139.40 519.66,139.45 519.82,139.51 519.99,139.56 520.15,139.61 520.32,139.67 520.48,139.72 520.64,139.78 520.81,139.83 520.97,139.88 521.13,139.94 521.30,139.99 521.46,140.04 521.63,140.10 521.79,140.15 521.95,140.20 522.12,140.26 522.28,140.31 522.44,140.36 522.61,140.42 522.77,140.47 522.94,140.52 523.10,140.58 523.26,140.63 523.43,140.68 523.59,140.74 523.75,140.79 523.92,140.84 524.08,140.90 524.25,140.95 524.41,141.00 524.57,141.06 524.74,141.11 524.90,141.16 525.06,141.22 525.23,141.27 525.39,141.33 525.56,141.38 525.72,141.43 525.88,141.49 526.05,141.54 526.21,141.59 526.37,141.65 526.54,141.70 526.70,141.75 526.87,141.81 527.03,141.86 527.19,141.91 527.36,141.97 527.52,142.02 527.68,142.07 527.85,142.13 528.01,142.18 528.18,142.23 528.34,142.29 528.50,142.34 528.67,142.39 528.83,142.45 528.99,142.50 529.16,142.55 529.32,142.61 529.49,142.66 529.65,142.71 529.81,142.77 529.98,142.82 530.14,142.87 530.31,142.93 530.47,142.98 530.63,143.03 530.80,143.09 530.96,143.14 531.12,143.20 531.29,143.25 531.45,143.30 531.62,143.36 531.78,143.41 531.94,143.46 532.11,143.52 532.27,143.57 532.43,143.62 532.60,143.68 532.76,143.73 532.93,143.78 533.09,143.84 533.25,143.89 533.42,143.94 533.58,144.00 533.74,144.05 533.91,144.10 534.07,144.16 534.24,144.21 534.40,144.26 534.56,144.32 534.73,144.37 534.89,144.42 535.05,144.48 535.22,144.53 535.38,144.58 535.55,144.64 535.71,144.69 535.87,144.74 536.04,144.80 536.20,144.85 536.36,144.90 536.53,144.96 536.69,145.01 536.86,145.07 537.02,145.12 537.18,145.17 537.35,145.23 537.51,145.28 537.67,145.33 537.84,145.39 538.00,145.44 538.17,145.49 538.33,145.55 538.49,145.60 538.66,145.65 538.82,145.71 538.98,145.76 539.15,145.81 539.31,145.87 539.48,145.92 539.64,145.97 539.80,146.03 539.97,146.08 540.13,146.13 540.29,146.19 540.46,146.24 540.62,146.29 540.79,146.35 540.95,146.40 541.11,146.45 541.28,146.51 541.44,146.56 541.60,146.61 541.77,146.67 541.93,146.72 542.10,146.77 542.26,146.83 542.42,146.88 542.59,146.93 542.75,146.99 542.91,147.04 543.08,147.10 543.24,147.15 543.41,147.20 543.57,147.26 543.73,147.31 543.90,147.36 544.06,147.42 544.22,147.47 544.39,147.52 544.55,147.58 544.72,147.63 544.88,147.68 545.04,147.74 545.21,147.79 545.37,147.84 545.53,147.90 545.70,147.95 545.86,148.00 546.03,148.06 546.19,148.11 546.35,148.16 546.52,148.22 546.68,148.27 546.84,148.32 547.01,148.38 547.17,148.43 547.34,148.48 547.50,148.54 547.66,148.59 547.83,148.64 547.99,148.70 548.15,148.75 548.32,148.80 548.48,148.86 548.65,148.91 548.81,148.96 548.97,149.02 549.14,149.07 549.30,149.12 549.46,149.18 549.63,149.23 549.79,149.29 549.96,149.34 550.12,149.39 550.28,149.45 550.45,149.50 550.61,149.55 550.77,149.61 550.94,149.66 551.10,149.71 551.27,149.77 551.43,149.82 551.59,149.87 551.76,149.93 551.92,149.98 552.08,150.03 552.25,150.09 552.41,150.14 552.58,150.19 552.74,150.25 552.90,150.30 553.07,150.35 553.23,150.41 553.39,150.46 553.56,150.51 553.72,150.57 553.89,150.62 554.05,150.67 554.21,150.73 554.38,150.78 554.54,150.83 554.70,150.89 554.87,150.94 555.03,150.99 555.20,151.05 555.36,151.10 555.52,151.15 555.69,151.21 555.85,151.26 556.01,151.31 556.18,151.37 556.34,151.42 556.51,151.48 556.67,151.53 556.83,151.58 557.00,151.64 557.16,151.69 557.32,151.74 557.49,151.80 557.65,151.85 557.82,151.90 557.98,151.96 558.14,152.01 558.31,152.06 558.47,152.12 558.63,152.17 558.80,152.22 558.96,152.28 559.13,152.33 559.29,152.38 559.45,152.44 559.62,152.49 559.78,152.54 559.94,152.60 560.11,152.65 560.27,152.70 560.44,152.76 560.60,152.81 560.76,152.86 560.93,152.92 561.09,152.97 561.25,153.02 561.42,153.08 561.58,153.13 561.75,153.18 561.91,153.24 562.07,153.29 562.24,153.34 562.40,153.40 562.56,153.45 562.73,153.50 562.89,153.56 563.06,153.61 563.22,153.66 563.38,153.72 563.55,153.77 563.71,153.82 563.87,153.88 564.04,153.93 564.20,153.99 564.37,154.04 564.53,154.09 564.69,154.15 564.86,154.20 565.02,154.25 565.18,154.31 565.35,154.36 565.51,154.41 565.68,154.47 565.84,154.52 566.00,154.57 566.17,154.63 566.33,154.68 566.49,154.73 566.66,154.79 566.82,154.84 566.99,154.89 567.15,154.95 567.31,155.00 567.48,155.05 567.64,155.11 567.80,155.16 567.97,155.21 568.13,155.27 568.30,155.32 568.46,155.37 568.62,155.43 568.79,155.48 568.95,155.53 569.11,155.59 569.28,155.64 569.44,155.69 569.61,155.75 569.77,155.80 569.93,155.85 570.10,155.91 570.26,155.96 570.42,156.01 570.59,156.07 570.75,156.12 570.92,156.17 571.08,156.23 571.24,156.28 571.41,156.33 571.57,156.39 571.73,156.44 571.90,156.49 572.06,156.55 572.23,156.60 572.39,156.66 572.55,156.71 572.72,156.76 572.88,156.82 573.04,156.87 573.21,156.92 573.37,156.98 573.54,157.03 573.70,157.08"/>
<g stroke="#000" stroke-opacity="0.065" stroke-width="1.0"><line x1="82.60" y1="222.5" x2="82.60" y2="352.58"/><line x1="410.00" y1="222.5" x2="410.00" y2="352.58"/><line x1="68.0" y1="226.50" x2="588.5" y2="226.50"/><line x1="68.0" y1="260.50" x2="588.5" y2="260.50"/><line x1="68.0" y1="294.50" x2="588.5" y2="294.50"/><line x1="68.0" y1="328.50" x2="588.5" y2="328.50"/></g>
<g stroke="#000" fill="none"><path stroke-width="1.17" d="M68.0 222.5V353.08"/><path stroke-width="0.95" d="M67.5 352.58H588.5"/>
<path stroke-width="1.0" d="M82.60 352.58V347.38M410.00 352.58V347.38M68.0 226.50H73.20M68.0 260.50H73.20M68.0 294.50H73.20M68.0 328.50H73.20"/></g>
<polyline fill="none" stroke="#009AFA" stroke-width="2.0" stroke-linejoin="round" stroke-linecap="round" points="82.60,226.75 82.76,226.75 82.93,226.75 83.09,226.75 83.26,226.75 83.42,226.75 83.58,226.75 83.75,226.75 83.91,226.75 84.07,226.75 84.24,226.75 84.40,226.75 84.57,226.75 84.73,226.75 84.89,226.75 85.06,226.75 85.22,226.76 85.38,226.76 85.55,226.76 85.71,226.76 85.88,226.76 86.04,226.76 86.20,226.76 86.37,226.76 86.53,226.76 86.69,226.76 86.86,226.76 87.02,226.76 87.19,226.76 87.35,226.76 87.51,226.76 87.68,226.76 87.84,226.76 88.00,226.77 88.17,226.77 88.33,226.77 88.50,226.77 88.66,226.77 88.82,226.77 88.99,226.77 89.15,226.77 89.31,226.77 89.48,226.77 89.64,226.77 89.81,226.77 89.97,226.77 90.13,226.77 90.30,226.77 90.46,226.77 90.62,226.78 90.79,226.78 90.95,226.78 91.12,226.78 91.28,226.78 91.44,226.78 91.61,226.78 91.77,226.78 91.93,226.78 92.10,226.78 92.26,226.78 92.43,226.78 92.59,226.78 92.75,226.78 92.92,226.78 93.08,226.79 93.24,226.79 93.41,226.79 93.57,226.79 93.74,226.79 93.90,226.79 94.06,226.79 94.23,226.79 94.39,226.79 94.55,226.79 94.72,226.79 94.88,226.79 95.05,226.79 95.21,226.79 95.37,226.79 95.54,226.80 95.70,226.80 95.86,226.80 96.03,226.80 96.19,226.80 96.36,226.80 96.52,226.80 96.68,226.80 96.85,226.80 97.01,226.80 97.17,226.80 97.34,226.80 97.50,226.80 97.67,226.80 97.83,226.81 97.99,226.81 98.16,226.81 98.32,226.81 98.48,226.81 98.65,226.81 98.81,226.81 98.98,226.81 99.14,226.81 99.30,226.81 99.47,226.81 99.63,226.81 99.79,226.81 99.96,226.81 100.12,226.82 100.29,226.82 100.45,226.82 100.61,226.82 100.78,226.82 100.94,226.82 101.10,226.82 101.27,226.82 101.43,226.82 101.60,226.82 101.76,226.82 101.92,226.82 102.09,226.82 102.25,226.82 102.41,226.83 102.58,226.83 102.74,226.83 102.91,226.83 103.07,226.83 103.23,226.83 103.40,226.83 103.56,226.83 103.72,226.83 103.89,226.83 104.05,226.83 104.22,226.83 104.38,226.83 104.54,226.84 104.71,226.84 104.87,226.84 105.03,226.84 105.20,226.84 105.36,226.84 105.53,226.84 105.69,226.84 105.85,226.84 106.02,226.84 106.18,226.84 106.34,226.84 106.51,226.85 106.67,226.85 106.84,226.85 107.00,226.85 107.16,226.85 107.33,226.85 107.49,226.85 107.65,226.85 107.82,226.85 107.98,226.85 108.15,226.85 108.31,226.85 108.47,226.86 108.64,226.86 108.80,226.86 108.96,226.86 109.13,226.86 109.29,226.86 109.46,226.86 109.62,226.86 109.78,226.86 109.95,226.86 110.11,226.86 110.27,226.86 110.44,226.87 110.60,226.87 110.77,226.87 110.93,226.87 111.09,226.87 111.26,226.87 111.42,226.87 111.58,226.87 111.75,226.87 111.91,226.87 112.08,226.87 112.24,226.87 112.40,226.88 112.57,226.88 112.73,226.88 112.89,226.88 113.06,226.88 113.22,226.88 113.39,226.88 113.55,226.88 113.71,226.88 113.88,226.88 114.04,226.88 114.20,226.89 114.37,226.89 114.53,226.89 114.70,226.89 114.86,226.89 115.02,226.89 115.19,226.89 115.35,226.89 115.51,226.89 115.68,226.89 115.84,226.89 116.01,226.90 116.17,226.90 116.33,226.90 116.50,226.90 116.66,226.90 116.82,226.90 116.99,226.90 117.15,226.90 117.32,226.90 117.48,226.90 117.64,226.91 117.81,226.91 117.97,226.91 118.13,226.91 118.30,226.91 118.46,226.91 118.63,226.91 118.79,226.91 118.95,226.91 119.12,226.91 119.28,226.91 119.44,226.92 119.61,226.92 119.77,226.92 119.94,226.92 120.10,226.92 120.26,226.92 120.43,226.92 120.59,226.92 120.75,226.92 120.92,226.92 121.08,226.93 121.25,226.93 121.41,226.93 121.57,226.93 121.74,226.93 121.90,226.93 122.06,226.93 122.23,226.93 122.39,226.93 122.56,226.93 122.72,226.94 122.88,226.94 123.05,226.94 123.21,226.94 123.37,226.94 123.54,226.94 123.70,226.94 123.87,226.94 124.03,226.94 124.19,226.95 124.36,226.95 124.52,226.95 124.68,226.95 124.85,226.95 125.01,226.95 125.18,226.95 125.34,226.95 125.50,226.95 125.67,226.95 125.83,226.96 125.99,226.96 126.16,226.96 126.32,226.96 126.49,226.96 126.65,226.96 126.81,226.96 126.98,226.96 127.14,226.96 127.31,226.97 127.47,226.97 127.63,226.97 127.80,226.97 127.96,226.97 128.12,226.97 128.29,226.97 128.45,226.97 128.62,226.97 128.78,226.98 128.94,226.98 129.11,226.98 129.27,226.98 129.43,226.98 129.60,226.98 129.76,226.98 129.93,226.98 130.09,226.98 130.25,226.99 130.42,226.99 130.58,226.99 130.74,226.99 130.91,226.99 131.07,226.99 131.24,226.99 131.40,226.99 131.56,227.00 131.73,227.00 131.89,227.00 132.05,227.00 132.22,227.00 132.38,227.00 132.55,227.00 132.71,227.00 132.87,227.00 133.04,227.01 133.20,227.01 133.36,227.01 133.53,227.01 133.69,227.01 133.86,227.01 134.02,227.01 134.18,227.01 134.35,227.02 134.51,227.02 134.67,227.02 134.84,227.02 135.00,227.02 135.17,227.02 135.33,227.02 135.49,227.02 135.66,227.03 135.82,227.03 135.98,227.03 136.15,227.03 136.31,227.03 136.48,227.03 136.64,227.03 136.80,227.03 136.97,227.04 137.13,227.04 137.29,227.04 137.46,227.04 137.62,227.04 137.79,227.04 137.95,227.04 138.11,227.04 138.28,227.05 138.44,227.05 138.60,227.05 138.77,227.05 138.93,227.05 139.10,227.05 139.26,227.05 139.42,227.06 139.59,227.06 139.75,227.06 139.91,227.06 140.08,227.06 140.24,227.06 140.41,227.06 140.57,227.06 140.73,227.07 140.90,227.07 141.06,227.07 141.22,227.07 141.39,227.07 141.55,227.07 141.72,227.07 141.88,227.08 142.04,227.08 142.21,227.08 142.37,227.08 142.53,227.08 142.70,227.08 142.86,227.08 143.03,227.09 143.19,227.09 143.35,227.09 143.52,227.09 143.68,227.09 143.84,227.09 144.01,227.09 144.17,227.10 144.34,227.10 144.50,227.10 144.66,227.10 144.83,227.10 144.99,227.10 145.15,227.10 145.32,227.11 145.48,227.11 145.65,227.11 145.81,227.11 145.97,227.11 146.14,227.11 146.30,227.11 146.46,227.12 146.63,227.12 146.79,227.12 146.96,227.12 147.12,227.12 147.28,227.12 147.45,227.12 147.61,227.13 147.77,227.13 147.94,227.13 148.10,227.13 148.27,227.13 148.43,227.13 148.59,227.14 148.76,227.14 148.92,227.14 149.08,227.14 149.25,227.14 149.41,227.14 149.58,227.14 149.74,227.15 149.90,227.15 150.07,227.15 150.23,227.15 150.39,227.15 150.56,227.15 150.72,227.16 150.89,227.16 151.05,227.16 151.21,227.16 151.38,227.16 151.54,227.16 151.70,227.17 151.87,227.17 152.03,227.17 152.20,227.17 152.36,227.17 152.52,227.17 152.69,227.18 152.85,227.18 153.01,227.18 153.18,227.18 153.34,227.18 153.51,227.18 153.67,227.19 153.83,227.19 154.00,227.19 154.16,227.19 154.32,227.19 154.49,227.19 154.65,227.20 154.82,227.20 154.98,227.20 155.14,227.20 155.31,227.20 155.47,227.20 155.63,227.21 155.80,227.21 155.96,227.21 156.13,227.21 156.29,227.21 156.45,227.21 156.62,227.22 156.78,227.22 156.94,227.22 157.11,227.22 157.27,227.22 157.44,227.22 157.60,227.23 157.76,227.23 157.93,227.23 158.09,227.23 158.25,227.23 158.42,227.24 158.58,227.24 158.75,227.24 158.91,227.24 159.07,227.24 159.24,227.24 159.40,227.25 159.56,227.25 159.73,227.25 159.89,227.25 160.06,227.25 160.22,227.26 160.38,227.26 160.55,227.26 160.71,227.26 160.87,227.26 161.04,227.27 161.20,227.27 161.37,227.27 161.53,227.27 161.69,227.27 161.86,227.27 162.02,227.28 162.18,227.28 162.35,227.28 162.51,227.28 162.68,227.28 162.84,227.29 163.00,227.29 163.17,227.29 163.33,227.29 163.49,227.29 163.66,227.30 163.82,227.30 163.99,227.30 164.15,227.30 164.31,227.30 164.48,227.31 164.64,227.31 164.80,227.31 164.97,227.31 165.13,227.31 165.30,227.32 165.46,227.32 165.62,227.32 165.79,227.32 165.95,227.32 166.11,227.33 166.28,227.33 166.44,227.33 166.61,227.33 166.77,227.33 166.93,227.34 167.10,227.34 167.26,227.34 167.42,227.34 167.59,227.35 167.75,227.35 167.92,227.35 168.08,227.35 168.24,227.35 168.41,227.36 168.57,227.36 168.73,227.36 168.90,227.36 169.06,227.36 169.23,227.37 169.39,227.37 169.55,227.37 169.72,227.37 169.88,227.38 170.04,227.38 170.21,227.38 170.37,227.38 170.54,227.38 170.70,227.39 170.86,227.39 171.03,227.39 171.19,227.39 171.35,227.40 171.52,227.40 171.68,227.40 171.85,227.40 172.01,227.41 172.17,227.41 172.34,227.41 172.50,227.41 172.67,227.41 172.83,227.42 172.99,227.42 173.16,227.42 173.32,227.42 173.48,227.43 173.65,227.43 173.81,227.43 173.98,227.43 174.14,227.44 174.30,227.44 174.47,227.44 174.63,227.44 174.79,227.45 174.96,227.45 175.12,227.45 175.29,227.45 175.45,227.45 175.61,227.46 175.78,227.46 175.94,227.46 176.10,227.46 176.27,227.47 176.43,227.47 176.60,227.47 176.76,227.47 176.92,227.48 177.09,227.48 177.25,227.48 177.41,227.48 177.58,227.49 177.74,227.49 177.91,227.49 178.07,227.49 178.23,227.50 178.40,227.50 178.56,227.50 178.72,227.51 178.89,227.51 179.05,227.51 179.22,227.51 179.38,227.52 179.54,227.52 179.71,227.52 179.87,227.52 180.03,227.53 180.20,227.53 180.36,227.53 180.53,227.53 180.69,227.54 180.85,227.54 181.02,227.54 181.18,227.55 181.34,227.55 181.51,227.55 181.67,227.55 181.84,227.56 182.00,227.56 182.16,227.56 182.33,227.56 182.49,227.57 182.65,227.57 182.82,227.57 182.98,227.58 183.15,227.58 183.31,227.58 183.47,227.58 183.64,227.59 183.80,227.59 183.96,227.59 184.13,227.60 184.29,227.60 184.46,227.60 184.62,227.60 184.78,227.61 184.95,227.61 185.11,227.61 185.27,227.62 185.44,227.62 185.60,227.62 185.77,227.63 185.93,227.63 186.09,227.63 186.26,227.63 186.42,227.64 186.58,227.64 186.75,227.64 186.91,227.65 187.08,227.65 187.24,227.65 187.40,227.66 187.57,227.66 187.73,227.66 187.89,227.67 188.06,227.67 188.22,227.67 188.39,227.67 188.55,227.68 188.71,227.68 188.88,227.68 189.04,227.69 189.20,227.69 189.37,227.69 189.53,227.70 189.70,227.70 189.86,227.70 190.02,227.71 190.19,227.71 190.35,227.71 190.51,227.72 190.68,227.72 190.84,227.72 191.01,227.73 191.17,227.73 191.33,227.73 191.50,227.74 191.66,227.74 191.82,227.74 191.99,227.75 192.15,227.75 192.32,227.75 192.48,227.76 192.64,227.76 192.81,227.76 192.97,227.77 193.13,227.77 193.30,227.77 193.46,227.78 193.63,227.78 193.79,227.78 193.95,227.79 194.12,227.79 194.28,227.80 194.44,227.80 194.61,227.80 194.77,227.81 194.94,227.81 195.10,227.81 195.26,227.82 195.43,227.82 195.59,227.82 195.75,227.83 195.92,227.83 196.08,227.84 196.25,227.84 196.41,227.84 196.57,227.85 196.74,227.85 196.90,227.85 197.06,227.86 197.23,227.86 197.39,227.87 197.56,227.87 197.72,227.87 197.88,227.88 198.05,227.88 198.21,227.89 198.37,227.89 198.54,227.89 198.70,227.90 198.87,227.90 199.03,227.91 199.19,227.91 199.36,227.91 199.52,227.92 199.68,227.92 199.85,227.93 200.01,227.93 200.18,227.93 200.34,227.94 200.50,227.94 200.67,227.95 200.83,227.95 200.99,227.95 201.16,227.96 201.32,227.96 201.49,227.97 201.65,227.97 201.81,227.98 201.98,227.98 202.14,227.98 202.30,227.99 202.47,227.99 202.63,228.00 202.80,228.00 202.96,228.01 203.12,228.01 203.29,228.01 203.45,228.02 203.61,228.02 203.78,228.03 203.94,228.03 204.11,228.04 204.27,228.04 204.43,228.05 204.60,228.05 204.76,228.05 204.92,228.06 205.09,228.06 205.25,228.07 205.42,228.07 205.58,228.08 205.74,228.08 205.91,228.09 206.07,228.09 206.23,228.10 206.40,228.10 206.56,228.11 206.73,228.11 206.89,228.12 207.05,228.12 207.22,228.13 207.38,228.13 207.54,228.14 207.71,228.14 207.87,228.15 208.04,228.15 208.20,228.16 208.36,228.16 208.53,228.17 208.69,228.17 208.85,228.18 209.02,228.18 209.18,228.19 209.35,228.19 209.51,228.20 209.67,228.20 209.84,228.21 210.00,228.21 210.16,228.22 210.33,228.22 210.49,228.23 210.66,228.23 210.82,228.24 210.98,228.24 211.15,228.25 211.31,228.25 211.47,228.26 211.64,228.27 211.80,228.27 211.97,228.28 212.13,228.28 212.29,228.29 212.46,228.29 212.62,228.30 212.78,228.30 212.95,228.31 213.11,228.32 213.28,228.32 213.44,228.33 213.60,228.33 213.77,228.34 213.93,228.34 214.09,228.35 214.26,228.36 214.42,228.36 214.59,228.37 214.75,228.37 214.91,228.38 215.08,228.39 215.24,228.39 215.40,228.40 215.57,228.40 215.73,228.41 215.90,228.42 216.06,228.42 216.22,228.43 216.39,228.44 216.55,228.44 216.72,228.45 216.88,228.45 217.04,228.46 217.21,228.47 217.37,228.47 217.53,228.48 217.70,228.49 217.86,228.49 218.03,228.50 218.19,228.51 218.35,228.51 218.52,228.52 218.68,228.53 218.84,228.53 219.01,228.54 219.17,228.55 219.34,228.55 219.50,228.56 219.66,228.57 219.83,228.57 219.99,228.58 220.15,228.59 220.32,228.60 220.48,228.60 220.65,228.61 220.81,228.62 220.97,228.62 221.14,228.63 221.30,228.64 221.46,228.65 221.63,228.65 221.79,228.66 221.96,228.67 222.12,228.68 222.28,228.68 222.45,228.69 222.61,228.70 222.77,228.71 222.94,228.71 223.10,228.72 223.27,228.73 223.43,228.74 223.59,228.74 223.76,228.75 223.92,228.76 224.08,228.77 224.25,228.78 224.41,228.78 224.58,228.79 224.74,228.80 224.90,228.81 225.07,228.82 225.23,228.83 225.39,228.83 225.56,228.84 225.72,228.85 225.89,228.86 226.05,228.87 226.21,228.88 226.38,228.88 226.54,228.89 226.70,228.90 226.87,228.91 227.03,228.92 227.20,228.93 227.36,228.94 227.52,228.95 227.69,228.96 227.85,228.97 228.01,228.97 228.18,228.98 228.34,228.99 228.51,229.00 228.67,229.01 228.83,229.02 229.00,229.03 229.16,229.04 229.32,229.05 229.49,229.06 229.65,229.07 229.82,229.08 229.98,229.09 230.14,229.10 230.31,229.11 230.47,229.12 230.63,229.13 230.80,229.14 230.96,229.15 231.13,229.16 231.29,229.17 231.45,229.18 231.62,229.19 231.78,229.20 231.94,229.21 232.11,229.22 232.27,229.23 232.44,229.24 232.60,229.26 232.76,229.27 232.93,229.28 233.09,229.29 233.25,229.30 233.42,229.31 233.58,229.32 233.75,229.33 233.91,229.35 234.07,229.36 234.24,229.37 234.40,229.38 234.56,229.39 234.73,229.40 234.89,229.42 235.06,229.43 235.22,229.44 235.38,229.45 235.55,229.47 235.71,229.48 235.87,229.49 236.04,229.50 236.20,229.52 236.37,229.53 236.53,229.54 236.69,229.55 236.86,229.57 237.02,229.58 237.18,229.59 237.35,229.61 237.51,229.62 237.68,229.63 237.84,229.65 238.00,229.66 238.17,229.68 238.33,229.69 238.49,229.70 238.66,229.72 238.82,229.73 238.99,229.75 239.15,229.76 239.31,229.78 239.48,229.79 239.64,229.81 239.80,229.82 239.97,229.84 240.13,229.85 240.30,229.87 240.46,229.88 240.62,229.90 240.79,229.91 240.95,229.93 241.11,229.95 241.28,229.96 241.44,229.98 241.61,229.99 241.77,230.01 241.93,230.03 242.10,230.04 242.26,230.06 242.42,230.08 242.59,230.10 242.75,230.11 242.92,230.13 243.08,230.15 243.24,230.17 243.41,230.18 243.57,230.20 243.73,230.22 243.90,230.24 244.06,230.26 244.23,230.28 244.39,230.30 244.55,230.31 244.72,230.33 244.88,230.35 245.04,230.37 245.21,230.39 245.37,230.41 245.54,230.43 245.70,230.45 245.86,230.47 246.03,230.50 246.19,230.52 246.35,230.54 246.52,230.56 246.68,230.58 246.85,230.60 247.01,230.62 247.17,230.65 247.34,230.67 247.50,230.69 247.66,230.71 247.83,230.74 247.99,230.76 248.16,230.78 248.32,230.81 248.48,230.83 248.65,230.86 248.81,230.88 248.97,230.91 249.14,230.93 249.30,230.96 249.47,230.98 249.63,231.01 249.79,231.03 249.96,231.06 250.12,231.09 250.28,231.12 250.45,231.14 250.61,231.17 250.78,231.20 250.94,231.23 251.10,231.25 251.27,231.28 251.43,231.31 251.59,231.34 251.76,231.37 251.92,231.40 252.09,231.43 252.25,231.46 252.41,231.50 252.58,231.53 252.74,231.56 252.90,231.59 253.07,231.62 253.23,231.66 253.40,231.69 253.56,231.73 253.72,231.76 253.89,231.79 254.05,231.83 254.21,231.87 254.38,231.90 254.54,231.94 254.71,231.98 254.87,232.01 255.03,232.05 255.20,232.09 255.36,232.13 255.52,232.17 255.69,232.21 255.85,232.25 256.02,232.29 256.18,232.33 256.34,232.37 256.51,232.42 256.67,232.46 256.83,232.50 257.00,232.55 257.16,232.60 257.33,232.64 257.49,232.69 257.65,232.74 257.82,232.78 257.98,232.83 258.14,232.88 258.31,232.93 258.47,232.98 258.64,233.03 258.80,233.09 258.96,233.14 259.13,233.19 259.29,233.25 259.45,233.31 259.62,233.36 259.78,233.42 259.95,233.48 260.11,233.54 260.27,233.60 260.44,233.66 260.60,233.72 260.76,233.79 260.93,233.85 261.09,233.92 261.26,233.98 261.42,234.05 261.58,234.12 261.75,234.19 261.91,234.26 262.08,234.34 262.24,234.41 262.40,234.49 262.57,234.56 262.73,234.64 262.89,234.72 263.06,234.80 263.22,234.89 263.39,234.97 263.55,235.06 263.71,235.15 263.88,235.24 264.04,235.33 264.20,235.42 264.37,235.52 264.53,235.62 264.70,235.72 264.86,235.82 265.02,235.92 265.19,236.03 265.35,236.14 265.51,236.25 265.68,236.36 265.84,236.48 266.01,236.59 266.17,236.72 266.33,236.84 266.50,236.97 266.66,237.10 266.82,237.23 266.99,237.37 267.15,237.51 267.32,237.65 267.48,237.80 267.64,237.95 267.81,238.10 267.97,238.26 268.13,238.42 268.30,238.59 268.46,238.76 268.63,238.94 268.79,239.12 268.95,239.31 269.12,239.50 269.28,239.70 269.44,239.90 269.61,240.11 269.77,240.32 269.94,240.54 270.10,240.77 270.26,241.01 270.43,241.25 270.59,241.50 270.75,241.76 270.92,242.03 271.08,242.31 271.25,242.59 271.41,242.89 271.57,243.20 271.74,243.51 271.90,243.84 272.06,244.18 272.23,244.54 272.39,244.90 272.56,245.28 272.72,245.68 272.88,246.09 273.05,246.52 273.21,246.96 273.37,247.42 273.54,247.90 273.70,248.40 273.87,248.93 274.03,249.47 274.19,250.04 274.36,250.63 274.52,251.25 274.68,251.90 274.85,252.58 275.01,253.29 275.18,254.03 275.34,254.80 275.50,255.61 275.67,256.46 275.83,257.35 275.99,258.28 276.16,259.26 276.32,260.28 276.49,261.35 276.65,262.46 276.81,263.63 276.98,264.85 277.14,266.12 277.30,267.45 277.47,268.83 277.63,270.26 277.80,271.75 277.96,273.28 278.12,274.87 278.29,276.50 278.45,278.17 278.61,279.87 278.78,281.61 278.94,283.38 279.11,285.16 279.27,286.95 279.43,288.74 279.60,290.53 279.76,292.31 279.92,294.07 280.09,295.80 280.25,297.50 280.42,299.17 280.58,300.79 280.74,302.37 280.91,303.89 281.07,305.37 281.23,306.80 281.40,308.17 281.56,309.48 281.73,310.75 281.89,311.96 282.05,313.12 282.22,314.23 282.38,315.29 282.54,316.30 282.71,317.27 282.87,318.19 283.04,319.08 283.20,319.92 283.36,320.73 283.53,321.50 283.69,322.23 283.85,322.93 284.02,323.61 284.18,324.25 284.35,324.86 284.51,325.45 284.67,326.02 284.84,326.56 285.00,327.08 285.16,327.58 285.33,328.05 285.49,328.51 285.66,328.95 285.82,329.38 285.98,329.79 286.15,330.18 286.31,330.56 286.47,330.92 286.64,331.27 286.80,331.61 286.97,331.94 287.13,332.25 287.29,332.56 287.46,332.85 287.62,333.14 287.78,333.41 287.95,333.68 288.11,333.94 288.28,334.19 288.44,334.43 288.60,334.66 288.77,334.89 288.93,335.11 289.09,335.33 289.26,335.53 289.42,335.74 289.59,335.93 289.75,336.12 289.91,336.31 290.08,336.49 290.24,336.67 290.40,336.84 290.57,337.00 290.73,337.17 290.90,337.32 291.06,337.48 291.22,337.63 291.39,337.77 291.55,337.92 291.71,338.06 291.88,338.19 292.04,338.32 292.21,338.45 292.37,338.58 292.53,338.70 292.70,338.82 292.86,338.94 293.02,339.06 293.19,339.17 293.35,339.28 293.52,339.39 293.68,339.50 293.84,339.60 294.01,339.70 294.17,339.80 294.33,339.90 294.50,339.99 294.66,340.09 294.83,340.18 294.99,340.27 295.15,340.35 295.32,340.44 295.48,340.53 295.64,340.61 295.81,340.69 295.97,340.77 296.14,340.85 296.30,340.93 296.46,341.00 296.63,341.07 296.79,341.15 296.95,341.22 297.12,341.29 297.28,341.36 297.45,341.43 297.61,341.49 297.77,341.56 297.94,341.62 298.10,341.69 298.26,341.75 298.43,341.81 298.59,341.87 298.76,341.93 298.92,341.99 299.08,342.05 299.25,342.10 299.41,342.16 299.57,342.21 299.74,342.27 299.90,342.32 300.07,342.37 300.23,342.43 300.39,342.48 300.56,342.53 300.72,342.58 300.88,342.62 301.05,342.67 301.21,342.72 301.38,342.77 301.54,342.81 301.70,342.86 301.87,342.90 302.03,342.95 302.19,342.99 302.36,343.03 302.52,343.07 302.69,343.12 302.85,343.16 303.01,343.20 303.18,343.24 303.34,343.28 303.50,343.32 303.67,343.36 303.83,343.39 304.00,343.43 304.16,343.47 304.32,343.50 304.49,343.54 304.65,343.58 304.81,343.61 304.98,343.65 305.14,343.68 305.31,343.71 305.47,343.75 305.63,343.78 305.80,343.81 305.96,343.85 306.13,343.88 306.29,343.91 306.45,343.94 306.62,343.97 306.78,344.00 306.94,344.03 307.11,344.06 307.27,344.09 307.44,344.12 307.60,344.15 307.76,344.18 307.93,344.21 308.09,344.23 308.25,344.26 308.42,344.29 308.58,344.32 308.75,344.34 308.91,344.37 309.07,344.40 309.24,344.42 309.40,344.45 309.56,344.47 309.73,344.50 309.89,344.52 310.06,344.55 310.22,344.57 310.38,344.60 310.55,344.62 310.71,344.64 310.87,344.67 311.04,344.69 311.20,344.71 311.37,344.73 311.53,344.76 311.69,344.78 311.86,344.80 312.02,344.82 312.18,344.84 312.35,344.87 312.51,344.89 312.68,344.91 312.84,344.93 313.00,344.95 313.17,344.97 313.33,344.99 313.49,345.01 313.66,345.03 313.82,345.05 313.99,345.07 314.15,345.09 314.31,345.11 314.48,345.13 314.64,345.15 314.80,345.16 314.97,345.18 315.13,345.20 315.30,345.22 315.46,345.24 315.62,345.25 315.79,345.27 315.95,345.29 316.11,345.31 316.28,345.32 316.44,345.34 316.61,345.36 316.77,345.38 316.93,345.39 317.10,345.41 317.26,345.42 317.42,345.44 317.59,345.46 317.75,345.47 317.92,345.49 318.08,345.50 318.24,345.52 318.41,345.54 318.57,345.55 318.73,345.57 318.90,345.58 319.06,345.60 319.23,345.61 319.39,345.63 319.55,345.64 319.72,345.66 319.88,345.67 320.04,345.68 320.21,345.70 320.37,345.71 320.54,345.73 320.70,345.74 320.86,345.75 321.03,345.77 321.19,345.78 321.35,345.79 321.52,345.81 321.68,345.82 321.85,345.83 322.01,345.85 322.17,345.86 322.34,345.87 322.50,345.89 322.66,345.90 322.83,345.91 322.99,345.92 323.16,345.94 323.32,345.95 323.48,345.96 323.65,345.97 323.81,345.99 323.97,346.00 324.14,346.01 324.30,346.02 324.47,346.03 324.63,346.04 324.79,346.06 324.96,346.07 325.12,346.08 325.28,346.09 325.45,346.10 325.61,346.11 325.78,346.12 325.94,346.14 326.10,346.15 326.27,346.16 326.43,346.17 326.59,346.18 326.76,346.19 326.92,346.20 327.09,346.21 327.25,346.22 327.41,346.23 327.58,346.24 327.74,346.25 327.90,346.26 328.07,346.27 328.23,346.28 328.40,346.29 328.56,346.30 328.72,346.31 328.89,346.32 329.05,346.33 329.21,346.34 329.38,346.35 329.54,346.36 329.71,346.37 329.87,346.38 330.03,346.39 330.20,346.40 330.36,346.41 330.52,346.42 330.69,346.43 330.85,346.44 331.02,346.45 331.18,346.45 331.34,346.46 331.51,346.47 331.67,346.48 331.83,346.49 332.00,346.50 332.16,346.51 332.33,346.52 332.49,346.53 332.65,346.53 332.82,346.54 332.98,346.55 333.14,346.56 333.31,346.57 333.47,346.58 333.64,346.58 333.80,346.59 333.96,346.60 334.13,346.61 334.29,346.62 334.45,346.62 334.62,346.63 334.78,346.64 334.95,346.65 335.11,346.66 335.27,346.66 335.44,346.67 335.60,346.68 335.76,346.69 335.93,346.70 336.09,346.70 336.26,346.71 336.42,346.72 336.58,346.73 336.75,346.73 336.91,346.74 337.07,346.75 337.24,346.76 337.40,346.76 337.57,346.77 337.73,346.78 337.89,346.78 338.06,346.79 338.22,346.80 338.38,346.81 338.55,346.81 338.71,346.82 338.88,346.83 339.04,346.83 339.20,346.84 339.37,346.85 339.53,346.85 339.69,346.86 339.86,346.87 340.02,346.87 340.19,346.88 340.35,346.89 340.51,346.89 340.68,346.90 340.84,346.91 341.00,346.91 341.17,346.92 341.33,346.93 341.50,346.93 341.66,346.94 341.82,346.95 341.99,346.95 342.15,346.96 342.31,346.97 342.48,346.97 342.64,346.98 342.81,346.98 342.97,346.99 343.13,347.00 343.30,347.00 343.46,347.01 343.62,347.01 343.79,347.02 343.95,347.03 344.12,347.03 344.28,347.04 344.44,347.04 344.61,347.05 344.77,347.06 344.93,347.06 345.10,347.07 345.26,347.07 345.43,347.08 345.59,347.09 345.75,347.09 345.92,347.10 346.08,347.10 346.24,347.11 346.41,347.11 346.57,347.12 346.74,347.12 346.90,347.13 347.06,347.14 347.23,347.14 347.39,347.15 347.55,347.15 347.72,347.16 347.88,347.16 348.05,347.17 348.21,347.17 348.37,347.18 348.54,347.18 348.70,347.19 348.86,347.19 349.03,347.20 349.19,347.20 349.36,347.21 349.52,347.22 349.68,347.22 349.85,347.23 350.01,347.23 350.17,347.24 350.34,347.24 350.50,347.25 350.67,347.25 350.83,347.26 350.99,347.26 351.16,347.27 351.32,347.27 351.49,347.28 351.65,347.28 351.81,347.28 351.98,347.29 352.14,347.29 352.30,347.30 352.47,347.30 352.63,347.31 352.80,347.31 352.96,347.32 353.12,347.32 353.29,347.33 353.45,347.33 353.61,347.34 353.78,347.34 353.94,347.35 354.11,347.35 354.27,347.36 354.43,347.36 354.60,347.36 354.76,347.37 354.92,347.37 355.09,347.38 355.25,347.38 355.42,347.39 355.58,347.39 355.74,347.40 355.91,347.40 356.07,347.40 356.23,347.41 356.40,347.41 356.56,347.42 356.73,347.42 356.89,347.43 357.05,347.43 357.22,347.43 357.38,347.44 357.54,347.44 357.71,347.45 357.87,347.45 358.04,347.45 358.20,347.46 358.36,347.46 358.53,347.47 358.69,347.47 358.85,347.48 359.02,347.48 359.18,347.48 359.35,347.49 359.51,347.49 359.67,347.50 359.84,347.50 360.00,347.50 360.16,347.51 360.33,347.51 360.49,347.52 360.66,347.52 360.82,347.52 360.98,347.53 361.15,347.53 361.31,347.53 361.47,347.54 361.64,347.54 361.80,347.55 361.97,347.55 362.13,347.55 362.29,347.56 362.46,347.56 362.62,347.56 362.78,347.57 362.95,347.57 363.11,347.58 363.28,347.58 363.44,347.58 363.60,347.59 363.77,347.59 363.93,347.59 364.09,347.60 364.26,347.60 364.42,347.60 364.59,347.61 364.75,347.61 364.91,347.62 365.08,347.62 365.24,347.62 365.40,347.63 365.57,347.63 365.73,347.63 365.90,347.64 366.06,347.64 366.22,347.64 366.39,347.65 366.55,347.65 366.71,347.65 366.88,347.66 367.04,347.66 367.21,347.66 367.37,347.67 367.53,347.67 367.70,347.67 367.86,347.68 368.02,347.68 368.19,347.68 368.35,347.69 368.52,347.69 368.68,347.69 368.84,347.70 369.01,347.70 369.17,347.70 369.33,347.71 369.50,347.71 369.66,347.71 369.83,347.72 369.99,347.72 370.15,347.72 370.32,347.73 370.48,347.73 370.64,347.73 370.81,347.74 370.97,347.74 371.14,347.74 371.30,347.74 371.46,347.75 371.63,347.75 371.79,347.75 371.95,347.76 372.12,347.76 372.28,347.76 372.45,347.77 372.61,347.77 372.77,347.77 372.94,347.78 373.10,347.78 373.26,347.78 373.43,347.78 373.59,347.79 373.76,347.79 373.92,347.79 374.08,347.80 374.25,347.80 374.41,347.80 374.57,347.80 374.74,347.81 374.90,347.81 375.07,347.81 375.23,347.82 375.39,347.82 375.56,347.82 375.72,347.82 375.88,347.83 376.05,347.83 376.21,347.83 376.38,347.84 376.54,347.84 376.70,347.84 376.87,347.84 377.03,347.85 377.19,347.85 377.36,347.85 377.52,347.86 377.69,347.86 377.85,347.86 378.01,347.86 378.18,347.87 378.34,347.87 378.50,347.87 378.67,347.87 378.83,347.88 379.00,347.88 379.16,347.88 379.32,347.88 379.49,347.89 379.65,347.89 379.81,347.89 379.98,347.90 380.14,347.90 380.31,347.90 380.47,347.90 380.63,347.91 380.80,347.91 380.96,347.91 381.12,347.91 381.29,347.92 381.45,347.92 381.62,347.92 381.78,347.92 381.94,347.93 382.11,347.93 382.27,347.93 382.43,347.93 382.60,347.94 382.76,347.94 382.93,347.94 383.09,347.94 383.25,347.95 383.42,347.95 383.58,347.95 383.74,347.95 383.91,347.96 384.07,347.96 384.24,347.96 384.40,347.96 384.56,347.96 384.73,347.97 384.89,347.97 385.05,347.97 385.22,347.97 385.38,347.98 385.55,347.98 385.71,347.98 385.87,347.98 386.04,347.99 386.20,347.99 386.36,347.99 386.53,347.99 386.69,348.00 386.86,348.00 387.02,348.00 387.18,348.00 387.35,348.00 387.51,348.01 387.67,348.01 387.84,348.01 388.00,348.01 388.17,348.02 388.33,348.02 388.49,348.02 388.66,348.02 388.82,348.02 388.98,348.03 389.15,348.03 389.31,348.03 389.48,348.03 389.64,348.04 389.80,348.04 389.97,348.04 390.13,348.04 390.29,348.04 390.46,348.05 390.62,348.05 390.79,348.05 390.95,348.05 391.11,348.05 391.28,348.06 391.44,348.06 391.60,348.06 391.77,348.06 391.93,348.07 392.10,348.07 392.26,348.07 392.42,348.07 392.59,348.07 392.75,348.08 392.91,348.08 393.08,348.08 393.24,348.08 393.41,348.08 393.57,348.09 393.73,348.09 393.90,348.09 394.06,348.09 394.22,348.09 394.39,348.10 394.55,348.10 394.72,348.10 394.88,348.10 395.04,348.10 395.21,348.11 395.37,348.11 395.54,348.11 395.70,348.11 395.86,348.11 396.03,348.12 396.19,348.12 396.35,348.12 396.52,348.12 396.68,348.12 396.85,348.13 397.01,348.13 397.17,348.13 397.34,348.13 397.50,348.13 397.66,348.14 397.83,348.14 397.99,348.14 398.16,348.14 398.32,348.14 398.48,348.14 398.65,348.15 398.81,348.15 398.97,348.15 399.14,348.15 399.30,348.15 399.47,348.16 399.63,348.16 399.79,348.16 399.96,348.16 400.12,348.16 400.28,348.16 400.45,348.17 400.61,348.17 400.78,348.17 400.94,348.17 401.10,348.17 401.27,348.18 401.43,348.18 401.59,348.18 401.76,348.18 401.92,348.18 402.09,348.18 402.25,348.19 402.41,348.19 402.58,348.19 402.74,348.19 402.90,348.19 403.07,348.19 403.23,348.20 403.40,348.20 403.56,348.20 403.72,348.20 403.89,348.20 404.05,348.21 404.21,348.21 404.38,348.21 404.54,348.21 404.71,348.21 404.87,348.21 405.03,348.22 405.20,348.22 405.36,348.22 405.52,348.22 405.69,348.22 405.85,348.22 406.02,348.23 406.18,348.23 406.34,348.23 406.51,348.23 406.67,348.23 406.83,348.23 407.00,348.23 407.16,348.24 407.33,348.24 407.49,348.24 407.65,348.24 407.82,348.24 407.98,348.24 408.14,348.25 408.31,348.25 408.47,348.25 408.64,348.25 408.80,348.25 408.96,348.25 409.13,348.26 409.29,348.26 409.45,348.26 409.62,348.26 409.78,348.26 409.95,348.26 410.11,348.26 410.27,348.27 410.44,348.27 410.60,348.27 410.76,348.27 410.93,348.27 411.09,348.27 411.26,348.28 411.42,348.28 411.58,348.28 411.75,348.28 411.91,348.28 412.07,348.28 412.24,348.28 412.40,348.29 412.57,348.29 412.73,348.29 412.89,348.29 413.06,348.29 413.22,348.29 413.38,348.29 413.55,348.30 413.71,348.30 413.88,348.30 414.04,348.30 414.20,348.30 414.37,348.30 414.53,348.30 414.69,348.31 414.86,348.31 415.02,348.31 415.19,348.31 415.35,348.31 415.51,348.31 415.68,348.31 415.84,348.32 416.00,348.32 416.17,348.32 416.33,348.32 416.50,348.32 416.66,348.32 416.82,348.32 416.99,348.33 417.15,348.33 417.31,348.33 417.48,348.33 417.64,348.33 417.81,348.33 417.97,348.33 418.13,348.34 418.30,348.34 418.46,348.34 418.62,348.34 418.79,348.34 418.95,348.34 419.12,348.34 419.28,348.34 419.44,348.35 419.61,348.35 419.77,348.35 419.93,348.35 420.10,348.35 420.26,348.35 420.43,348.35 420.59,348.36 420.75,348.36 420.92,348.36 421.08,348.36 421.24,348.36 421.41,348.36 421.57,348.36 421.74,348.36 421.90,348.37 422.06,348.37 422.23,348.37 422.39,348.37 422.55,348.37 422.72,348.37 422.88,348.37 423.05,348.37 423.21,348.38 423.37,348.38 423.54,348.38 423.70,348.38 423.86,348.38 424.03,348.38 424.19,348.38 424.36,348.38 424.52,348.39 424.68,348.39 424.85,348.39 425.01,348.39 425.17,348.39 425.34,348.39 425.50,348.39 425.67,348.39 425.83,348.40 425.99,348.40 426.16,348.40 426.32,348.40 426.48,348.40 426.65,348.40 426.81,348.40 426.98,348.40 427.14,348.41 427.30,348.41 427.47,348.41 427.63,348.41 427.79,348.41 427.96,348.41 428.12,348.41 428.29,348.41 428.45,348.41 428.61,348.42 428.78,348.42 428.94,348.42 429.10,348.42 429.27,348.42 429.43,348.42 429.60,348.42 429.76,348.42 429.92,348.42 430.09,348.43 430.25,348.43 430.41,348.43 430.58,348.43 430.74,348.43 430.91,348.43 431.07,348.43 431.23,348.43 431.40,348.43 431.56,348.44 431.72,348.44 431.89,348.44 432.05,348.44 432.22,348.44 432.38,348.44 432.54,348.44 432.71,348.44 432.87,348.44 433.03,348.45 433.20,348.45 433.36,348.45 433.53,348.45 433.69,348.45 433.85,348.45 434.02,348.45 434.18,348.45 434.34,348.45 434.51,348.46 434.67,348.46 434.84,348.46 435.00,348.46 435.16,348.46 435.33,348.46 435.49,348.46 435.65,348.46 435.82,348.46 435.98,348.46 436.15,348.47 436.31,348.47 436.47,348.47 436.64,348.47 436.80,348.47 436.96,348.47 437.13,348.47 437.29,348.47 437.46,348.47 437.62,348.47 437.78,348.48 437.95,348.48 438.11,348.48 438.27,348.48 438.44,348.48 438.60,348.48 438.77,348.48 438.93,348.48 439.09,348.48 439.26,348.48 439.42,348.49 439.58,348.49 439.75,348.49 439.91,348.49 440.08,348.49 440.24,348.49 440.40,348.49 440.57,348.49 440.73,348.49 440.90,348.49 441.06,348.50 441.22,348.50 441.39,348.50 441.55,348.50 441.71,348.50 441.88,348.50 442.04,348.50 442.21,348.50 442.37,348.50 442.53,348.50 442.70,348.50 442.86,348.51 443.02,348.51 443.19,348.51 443.35,348.51 443.52,348.51 443.68,348.51 443.84,348.51 444.01,348.51 444.17,348.51 444.33,348.51 444.50,348.51 444.66,348.52 444.83,348.52 444.99,348.52 445.15,348.52 445.32,348.52 445.48,348.52 445.64,348.52 445.81,348.52 445.97,348.52 446.14,348.52 446.30,348.52 446.46,348.53 446.63,348.53 446.79,348.53 446.95,348.53 447.12,348.53 447.28,348.53 447.45,348.53 447.61,348.53 447.77,348.53 447.94,348.53 448.10,348.53 448.26,348.53 448.43,348.54 448.59,348.54 448.76,348.54 448.92,348.54 449.08,348.54 449.25,348.54 449.41,348.54 449.57,348.54 449.74,348.54 449.90,348.54 450.07,348.54 450.23,348.54 450.39,348.55 450.56,348.55 450.72,348.55 450.88,348.55 451.05,348.55 451.21,348.55 451.38,348.55 451.54,348.55 451.70,348.55 451.87,348.55 452.03,348.55 452.19,348.55 452.36,348.56 452.52,348.56 452.69,348.56 452.85,348.56 453.01,348.56 453.18,348.56 453.34,348.56 453.50,348.56 453.67,348.56 453.83,348.56 454.00,348.56 454.16,348.56 454.32,348.57 454.49,348.57 454.65,348.57 454.81,348.57 454.98,348.57 455.14,348.57 455.31,348.57 455.47,348.57 455.63,348.57 455.80,348.57 455.96,348.57 456.12,348.57 456.29,348.57 456.45,348.58 456.62,348.58 456.78,348.58 456.94,348.58 457.11,348.58 457.27,348.58 457.43,348.58 457.60,348.58 457.76,348.58 457.93,348.58 458.09,348.58 458.25,348.58 458.42,348.58 458.58,348.58 458.74,348.59 458.91,348.59 459.07,348.59 459.24,348.59 459.40,348.59 459.56,348.59 459.73,348.59 459.89,348.59 460.05,348.59 460.22,348.59 460.38,348.59 460.55,348.59 460.71,348.59 460.87,348.59 461.04,348.60 461.20,348.60 461.36,348.60 461.53,348.60 461.69,348.60 461.86,348.60 462.02,348.60 462.18,348.60 462.35,348.60 462.51,348.60 462.67,348.60 462.84,348.60 463.00,348.60 463.17,348.60 463.33,348.61 463.49,348.61 463.66,348.61 463.82,348.61 463.98,348.61 464.15,348.61 464.31,348.61 464.48,348.61 464.64,348.61 464.80,348.61 464.97,348.61 465.13,348.61 465.29,348.61 465.46,348.61 465.62,348.61 465.79,348.62 465.95,348.62 466.11,348.62 466.28,348.62 466.44,348.62 466.60,348.62 466.77,348.62 466.93,348.62 467.10,348.62 467.26,348.62 467.42,348.62 467.59,348.62 467.75,348.62 467.91,348.62 468.08,348.62 468.24,348.63 468.41,348.63 468.57,348.63 468.73,348.63 468.90,348.63 469.06,348.63 469.22,348.63 469.39,348.63 469.55,348.63 469.72,348.63 469.88,348.63 470.04,348.63 470.21,348.63 470.37,348.63 470.53,348.63 470.70,348.63 470.86,348.64 471.03,348.64 471.19,348.64 471.35,348.64 471.52,348.64 471.68,348.64 471.84,348.64 472.01,348.64 472.17,348.64 472.34,348.64 472.50,348.64 472.66,348.64 472.83,348.64 472.99,348.64 473.15,348.64 473.32,348.64 473.48,348.65 473.65,348.65 473.81,348.65 473.97,348.65 474.14,348.65 474.30,348.65 474.46,348.65 474.63,348.65 474.79,348.65 474.96,348.65 475.12,348.65 475.28,348.65 475.45,348.65 475.61,348.65 475.77,348.65 475.94,348.65 476.10,348.65 476.27,348.65 476.43,348.66 476.59,348.66 476.76,348.66 476.92,348.66 477.08,348.66 477.25,348.66 477.41,348.66 477.58,348.66 477.74,348.66 477.90,348.66 478.07,348.66 478.23,348.66 478.39,348.66 478.56,348.66 478.72,348.66 478.89,348.66 479.05,348.66 479.21,348.66 479.38,348.67 479.54,348.67 479.70,348.67 479.87,348.67 480.03,348.67 480.20,348.67 480.36,348.67 480.52,348.67 480.69,348.67 480.85,348.67 481.01,348.67 481.18,348.67 481.34,348.67 481.51,348.67 481.67,348.67 481.83,348.67 482.00,348.67 482.16,348.67 482.32,348.68 482.49,348.68 482.65,348.68 482.82,348.68 482.98,348.68 483.14,348.68 483.31,348.68 483.47,348.68 483.63,348.68 483.80,348.68 483.96,348.68 484.13,348.68 484.29,348.68 484.45,348.68 484.62,348.68 484.78,348.68 484.95,348.68 485.11,348.68 485.27,348.68 485.44,348.68 485.60,348.69 485.76,348.69 485.93,348.69 486.09,348.69 486.26,348.69 486.42,348.69 486.58,348.69 486.75,348.69 486.91,348.69 487.07,348.69 487.24,348.69 487.40,348.69 487.57,348.69 487.73,348.69 487.89,348.69 488.06,348.69 488.22,348.69 488.38,348.69 488.55,348.69 488.71,348.69 488.88,348.69 489.04,348.70 489.20,348.70 489.37,348.70 489.53,348.70 489.69,348.70 489.86,348.70 490.02,348.70 490.19,348.70 490.35,348.70 490.51,348.70 490.68,348.70 490.84,348.70 491.00,348.70 491.17,348.70 491.33,348.70 491.50,348.70 491.66,348.70 491.82,348.70 491.99,348.70 492.15,348.70 492.31,348.70 492.48,348.71 492.64,348.71 492.81,348.71 492.97,348.71 493.13,348.71 493.30,348.71 493.46,348.71 493.62,348.71 493.79,348.71 493.95,348.71 494.12,348.71 494.28,348.71 494.44,348.71 494.61,348.71 494.77,348.71 494.93,348.71 495.10,348.71 495.26,348.71 495.43,348.71 495.59,348.71 495.75,348.71 495.92,348.71 496.08,348.71 496.24,348.72 496.41,348.72 496.57,348.72 496.74,348.72 496.90,348.72 497.06,348.72 497.23,348.72 497.39,348.72 497.55,348.72 497.72,348.72 497.88,348.72 498.05,348.72 498.21,348.72 498.37,348.72 498.54,348.72 498.70,348.72 498.86,348.72 499.03,348.72 499.19,348.72 499.36,348.72 499.52,348.72 499.68,348.72 499.85,348.72 500.01,348.72 500.17,348.73 500.34,348.73 500.50,348.73 500.67,348.73 500.83,348.73 500.99,348.73 501.16,348.73 501.32,348.73 501.48,348.73 501.65,348.73 501.81,348.73 501.98,348.73 502.14,348.73 502.30,348.73 502.47,348.73 502.63,348.73 502.79,348.73 502.96,348.73 503.12,348.73 503.29,348.73 503.45,348.73 503.61,348.73 503.78,348.73 503.94,348.73 504.10,348.73 504.27,348.74 504.43,348.74 504.60,348.74 504.76,348.74 504.92,348.74 505.09,348.74 505.25,348.74 505.41,348.74 505.58,348.74 505.74,348.74 505.91,348.74 506.07,348.74 506.23,348.74 506.40,348.74 506.56,348.74 506.72,348.74 506.89,348.74 507.05,348.74 507.22,348.74 507.38,348.74 507.54,348.74 507.71,348.74 507.87,348.74 508.03,348.74 508.20,348.74 508.36,348.74 508.53,348.74 508.69,348.75 508.85,348.75 509.02,348.75 509.18,348.75 509.34,348.75 509.51,348.75 509.67,348.75 509.84,348.75 510.00,348.75 510.16,348.75 510.33,348.75 510.49,348.75 510.65,348.75 510.82,348.75 510.98,348.75 511.15,348.75 511.31,348.75 511.47,348.75 511.64,348.75 511.80,348.75 511.96,348.75 512.13,348.75 512.29,348.75 512.46,348.75 512.62,348.75 512.78,348.75 512.95,348.75 513.11,348.75 513.27,348.75 513.44,348.76 513.60,348.76 513.77,348.76 513.93,348.76 514.09,348.76 514.26,348.76 514.42,348.76 514.58,348.76 514.75,348.76 514.91,348.76 515.08,348.76 515.24,348.76 515.40,348.76 515.57,348.76 515.73,348.76 515.89,348.76 516.06,348.76 516.22,348.76 516.39,348.76 516.55,348.76 516.71,348.76 516.88,348.76 517.04,348.76 517.20,348.76 517.37,348.76 517.53,348.76 517.70,348.76 517.86,348.76 518.02,348.76 518.19,348.76 518.35,348.76 518.51,348.77 518.68,348.77 518.84,348.77 519.01,348.77 519.17,348.77 519.33,348.77 519.50,348.77 519.66,348.77 519.82,348.77 519.99,348.77 520.15,348.77 520.32,348.77 520.48,348.77 520.64,348.77 520.81,348.77 520.97,348.77 521.13,348.77 521.30,348.77 521.46,348.77 521.63,348.77 521.79,348.77 521.95,348.77 522.12,348.77 522.28,348.77 522.44,348.77 522.61,348.77 522.77,348.77 522.94,348.77 523.10,348.77 523.26,348.77 523.43,348.77 523.59,348.77 523.75,348.77 523.92,348.77 524.08,348.78 524.25,348.78 524.41,348.78 524.57,348.78 524.74,348.78 524.90,348.78 525.06,348.78 525.23,348.78 525.39,348.78 525.56,348.78 525.72,348.78 525.88,348.78 526.05,348.78 526.21,348.78 526.37,348.78 526.54,348.78 526.70,348.78 526.87,348.78 527.03,348.78 527.19,348.78 527.36,348.78 527.52,348.78 527.68,348.78 527.85,348.78 528.01,348.78 528.18,348.78 528.34,348.78 528.50,348.78 528.67,348.78 528.83,348.78 528.99,348.78 529.16,348.78 529.32,348.78 529.49,348.78 529.65,348.78 529.81,348.78 529.98,348.79 530.14,348.79 530.31,348.79 530.47,348.79 530.63,348.79 530.80,348.79 530.96,348.79 531.12,348.79 531.29,348.79 531.45,348.79 531.62,348.79 531.78,348.79 531.94,348.79 532.11,348.79 532.27,348.79 532.43,348.79 532.60,348.79 532.76,348.79 532.93,348.79 533.09,348.79 533.25,348.79 533.42,348.79 533.58,348.79 533.74,348.79 533.91,348.79 534.07,348.79 534.24,348.79 534.40,348.79 534.56,348.79 534.73,348.79 534.89,348.79 535.05,348.79 535.22,348.79 535.38,348.79 535.55,348.79 535.71,348.79 535.87,348.79 536.04,348.79 536.20,348.79 536.36,348.80 536.53,348.80 536.69,348.80 536.86,348.80 537.02,348.80 537.18,348.80 537.35,348.80 537.51,348.80 537.67,348.80 537.84,348.80 538.00,348.80 538.17,348.80 538.33,348.80 538.49,348.80 538.66,348.80 538.82,348.80 538.98,348.80 539.15,348.80 539.31,348.80 539.48,348.80 539.64,348.80 539.80,348.80 539.97,348.80 540.13,348.80 540.29,348.80 540.46,348.80 540.62,348.80 540.79,348.80 540.95,348.80 541.11,348.80 541.28,348.80 541.44,348.80 541.60,348.80 541.77,348.80 541.93,348.80 542.10,348.80 542.26,348.80 542.42,348.80 542.59,348.80 542.75,348.80 542.91,348.80 543.08,348.80 543.24,348.80 543.41,348.80 543.57,348.81 543.73,348.81 543.90,348.81 544.06,348.81 544.22,348.81 544.39,348.81 544.55,348.81 544.72,348.81 544.88,348.81 545.04,348.81 545.21,348.81 545.37,348.81 545.53,348.81 545.70,348.81 545.86,348.81 546.03,348.81 546.19,348.81 546.35,348.81 546.52,348.81 546.68,348.81 546.84,348.81 547.01,348.81 547.17,348.81 547.34,348.81 547.50,348.81 547.66,348.81 547.83,348.81 547.99,348.81 548.15,348.81 548.32,348.81 548.48,348.81 548.65,348.81 548.81,348.81 548.97,348.81 549.14,348.81 549.30,348.81 549.46,348.81 549.63,348.81 549.79,348.81 549.96,348.81 550.12,348.81 550.28,348.81 550.45,348.81 550.61,348.81 550.77,348.81 550.94,348.81 551.10,348.81 551.27,348.81 551.43,348.82 551.59,348.82 551.76,348.82 551.92,348.82 552.08,348.82 552.25,348.82 552.41,348.82 552.58,348.82 552.74,348.82 552.90,348.82 553.07,348.82 553.23,348.82 553.39,348.82 553.56,348.82 553.72,348.82 553.89,348.82 554.05,348.82 554.21,348.82 554.38,348.82 554.54,348.82 554.70,348.82 554.87,348.82 555.03,348.82 555.20,348.82 555.36,348.82 555.52,348.82 555.69,348.82 555.85,348.82 556.01,348.82 556.18,348.82 556.34,348.82 556.51,348.82 556.67,348.82 556.83,348.82 557.00,348.82 557.16,348.82 557.32,348.82 557.49,348.82 557.65,348.82 557.82,348.82 557.98,348.82 558.14,348.82 558.31,348.82 558.47,348.82 558.63,348.82 558.80,348.82 558.96,348.82 559.13,348.82 559.29,348.82 559.45,348.82 559.62,348.82 559.78,348.82 559.94,348.82 560.11,348.82 560.27,348.83 560.44,348.83 560.60,348.83 560.76,348.83 560.93,348.83 561.09,348.83 561.25,348.83 561.42,348.83 561.58,348.83 561.75,348.83 561.91,348.83 562.07,348.83 562.24,348.83 562.40,348.83 562.56,348.83 562.73,348.83 562.89,348.83 563.06,348.83 563.22,348.83 563.38,348.83 563.55,348.83 563.71,348.83 563.87,348.83 564.04,348.83 564.20,348.83 564.37,348.83 564.53,348.83 564.69,348.83 564.86,348.83 565.02,348.83 565.18,348.83 565.35,348.83 565.51,348.83 565.68,348.83 565.84,348.83 566.00,348.83 566.17,348.83 566.33,348.83 566.49,348.83 566.66,348.83 566.82,348.83 566.99,348.83 567.15,348.83 567.31,348.83 567.48,348.83 567.64,348.83 567.80,348.83 567.97,348.83 568.13,348.83 568.30,348.83 568.46,348.83 568.62,348.83 568.79,348.83 568.95,348.83 569.11,348.83 569.28,348.83 569.44,348.83 569.61,348.83 569.77,348.83 569.93,348.83 570.10,348.83 570.26,348.83 570.42,348.84 570.59,348.84 570.75,348.84 570.92,348.84 571.08,348.84 571.24,348.84 571.41,348.84 571.57,348.84 571.73,348.84 571.90,348.84 572.06,348.84 572.23,348.84 572.39,348.84 572.55,348.84 572.72,348.84 572.88,348.84 573.04,348.84 573.21,348.84 573.37,348.84 573.54,348.84 573.70,348.84"/>
<text x="45.00" y="38.84" font-size="12.83" textLength="6.78" lengthAdjust="spacingAndGlyphs">2</text><text x="52.66" y="38.84" font-size="12.83" textLength="7.04" lengthAdjust="spacingAndGlyphs">0</text>
<text x="52.66" y="65.52" font-size="12.83" textLength="7.04" lengthAdjust="spacingAndGlyphs">0</text>
<text x="35.18" y="92.20" font-size="12.83" textLength="9.03" lengthAdjust="spacingAndGlyphs">−</text><text x="45.00" y="92.20" font-size="12.83" textLength="6.78" lengthAdjust="spacingAndGlyphs">2</text><text x="52.66" y="92.20" font-size="12.83" textLength="7.04" lengthAdjust="spacingAndGlyphs">0</text>
<text x="35.18" y="118.89" font-size="12.83" textLength="9.03" lengthAdjust="spacingAndGlyphs">−</text><text x="45.03" y="118.89" font-size="12.83" textLength="7.04" lengthAdjust="spacingAndGlyphs">4</text><text x="52.66" y="118.89" font-size="12.83" textLength="7.04" lengthAdjust="spacingAndGlyphs">0</text>
<text x="35.18" y="145.57" font-size="12.83" textLength="9.03" lengthAdjust="spacingAndGlyphs">−</text><text x="44.90" y="145.57" font-size="12.83" textLength="7.28" lengthAdjust="spacingAndGlyphs">6</text><text x="52.66" y="145.57" font-size="12.83" textLength="7.04" lengthAdjust="spacingAndGlyphs">0</text>
<text x="52.66" y="230.90" font-size="12.83" textLength="7.04" lengthAdjust="spacingAndGlyphs">0</text>
<text x="35.18" y="264.90" font-size="12.83" textLength="9.03" lengthAdjust="spacingAndGlyphs">−</text><text x="45.18" y="264.90" font-size="12.83" textLength="6.64" lengthAdjust="spacingAndGlyphs">5</text><text x="52.66" y="264.90" font-size="12.83" textLength="7.04" lengthAdjust="spacingAndGlyphs">0</text>
<text x="27.55" y="298.90" font-size="12.83" textLength="9.03" lengthAdjust="spacingAndGlyphs">−</text><text x="37.49" y="298.90" font-size="12.83" textLength="6.72" lengthAdjust="spacingAndGlyphs">1</text><text x="45.03" y="298.90" font-size="12.83" textLength="7.04" lengthAdjust="spacingAndGlyphs">0</text><text x="52.66" y="298.90" font-size="12.83" textLength="7.04" lengthAdjust="spacingAndGlyphs">0</text>
<text x="27.55" y="332.90" font-size="12.83" textLength="9.03" lengthAdjust="spacingAndGlyphs">−</text><text x="37.49" y="332.90" font-size="12.83" textLength="6.72" lengthAdjust="spacingAndGlyphs">1</text><text x="45.18" y="332.90" font-size="12.83" textLength="6.64" lengthAdjust="spacingAndGlyphs">5</text><text x="52.66" y="332.90" font-size="12.83" textLength="7.04" lengthAdjust="spacingAndGlyphs">0</text>
<text x="72.70" y="179.90" font-size="12.83" textLength="6.72" lengthAdjust="spacingAndGlyphs">1</text><text x="80.23" y="179.90" font-size="12.83" textLength="7.04" lengthAdjust="spacingAndGlyphs">0</text>
<text x="86.41" y="173.10" font-size="10.26" textLength="5.63" lengthAdjust="spacingAndGlyphs">0</text>
<text x="400.10" y="179.90" font-size="12.83" textLength="6.72" lengthAdjust="spacingAndGlyphs">1</text><text x="407.63" y="179.90" font-size="12.83" textLength="7.04" lengthAdjust="spacingAndGlyphs">0</text>
<text x="413.78" y="173.10" font-size="10.26" textLength="5.42" lengthAdjust="spacingAndGlyphs">2</text>
<text x="72.70" y="371.90" font-size="12.83" textLength="6.72" lengthAdjust="spacingAndGlyphs">1</text><text x="80.23" y="371.90" font-size="12.83" textLength="7.04" lengthAdjust="spacingAndGlyphs">0</text>
<text x="86.41" y="365.10" font-size="10.26" textLength="5.63" lengthAdjust="spacingAndGlyphs">0</text>
<text x="400.10" y="371.90" font-size="12.83" textLength="6.72" lengthAdjust="spacingAndGlyphs">1</text><text x="407.63" y="371.90" font-size="12.83" textLength="7.04" lengthAdjust="spacingAndGlyphs">0</text>
<text x="413.78" y="365.10" font-size="10.26" textLength="5.42" lengthAdjust="spacingAndGlyphs">2</text>
<text x="307.46" y="17.50" font-size="20.71" textLength="13.33" lengthAdjust="spacingAndGlyphs">А</text><text x="321.63" y="17.50" font-size="20.71" textLength="13.81" lengthAdjust="spacingAndGlyphs">Ч</text><text x="336.06" y="17.50" font-size="20.71" textLength="13.10" lengthAdjust="spacingAndGlyphs">Х</text>
<text x="304.66" y="209.60" font-size="20.57" textLength="17.68" lengthAdjust="spacingAndGlyphs">Ф</text><text x="322.96" y="209.60" font-size="20.57" textLength="13.15" lengthAdjust="spacingAndGlyphs">Ч</text><text x="337.41" y="209.60" font-size="20.57" textLength="13.00" lengthAdjust="spacingAndGlyphs">Х</text>
<text x="278.09" y="393.10" font-size="16.50" textLength="9.86" lengthAdjust="spacingAndGlyphs">Ч</text><text x="289.44" y="393.10" font-size="16.50" textLength="7.31" lengthAdjust="spacingAndGlyphs">а</text><text x="299.33" y="393.10" font-size="16.50" textLength="7.83" lengthAdjust="spacingAndGlyphs">с</text><text x="308.18" y="393.10" font-size="16.50" textLength="8.65" lengthAdjust="spacingAndGlyphs">т</text><text x="317.85" y="393.10" font-size="16.50" textLength="8.66" lengthAdjust="spacingAndGlyphs">о</text><text x="327.69" y="393.10" font-size="16.50" textLength="8.38" lengthAdjust="spacingAndGlyphs">т</text><text x="337.17" y="393.10" font-size="16.50" textLength="7.58" lengthAdjust="spacingAndGlyphs">а</text><text x="346.17" y="393.10" font-size="16.50" textLength="5.66" lengthAdjust="spacingAndGlyphs">,</text><text x="357.49" y="393.10" font-size="16.50" textLength="8.29" lengthAdjust="spacingAndGlyphs">Г</text><text x="367.24" y="393.10" font-size="16.50" textLength="10.43" lengthAdjust="spacingAndGlyphs">ц</text>
<text x="23.15" y="158.68" font-size="16.21" textLength="10.06" lengthAdjust="spacingAndGlyphs" transform="rotate(-90 23.15 158.68)">А</text><text x="23.15" y="147.37" font-size="16.21" textLength="11.14" lengthAdjust="spacingAndGlyphs" transform="rotate(-90 23.15 147.37)">м</text><text x="23.15" y="135.20" font-size="16.21" textLength="9.41" lengthAdjust="spacingAndGlyphs" transform="rotate(-90 23.15 135.20)">п</text><text x="23.15" y="124.74" font-size="16.21" textLength="9.35" lengthAdjust="spacingAndGlyphs" transform="rotate(-90 23.15 124.74)">л</text><text x="23.15" y="113.75" font-size="16.21" textLength="8.85" lengthAdjust="spacingAndGlyphs" transform="rotate(-90 23.15 113.75)">и</text><text x="23.15" y="103.99" font-size="16.21" textLength="9.19" lengthAdjust="spacingAndGlyphs" transform="rotate(-90 23.15 103.99)">т</text><text x="23.15" y="93.54" font-size="16.21" textLength="7.82" lengthAdjust="spacingAndGlyphs" transform="rotate(-90 23.15 93.54)">у</text><text x="23.15" y="83.80" font-size="16.21" textLength="8.91" lengthAdjust="spacingAndGlyphs" transform="rotate(-90 23.15 83.80)">д</text><text x="23.15" y="72.90" font-size="16.21" textLength="7.15" lengthAdjust="spacingAndGlyphs" transform="rotate(-90 23.15 72.90)">а</text><text x="23.15" y="64.17" font-size="16.21" textLength="5.94" lengthAdjust="spacingAndGlyphs" transform="rotate(-90 23.15 64.17)">,</text><text x="23.15" y="52.66" font-size="16.21" textLength="9.70" lengthAdjust="spacingAndGlyphs" transform="rotate(-90 23.15 52.66)">д</text><text x="23.15" y="41.37" font-size="16.21" textLength="9.80" lengthAdjust="spacingAndGlyphs" transform="rotate(-90 23.15 41.37)">Б</text>
<text x="15.75" y="317.78" font-size="16.28" textLength="13.55" lengthAdjust="spacingAndGlyphs" transform="rotate(-90 15.75 317.78)">Ф</text><text x="15.75" y="302.73" font-size="16.28" textLength="7.58" lengthAdjust="spacingAndGlyphs" transform="rotate(-90 15.75 302.73)">а</text><text x="15.75" y="292.72" font-size="16.28" textLength="7.05" lengthAdjust="spacingAndGlyphs" transform="rotate(-90 15.75 292.72)">з</text><text x="15.75" y="284.86" font-size="16.28" textLength="8.01" lengthAdjust="spacingAndGlyphs" transform="rotate(-90 15.75 284.86)">а</text><text x="15.75" y="275.67" font-size="16.28" textLength="5.94" lengthAdjust="spacingAndGlyphs" transform="rotate(-90 15.75 275.67)">,</text><text x="15.75" y="264.49" font-size="16.28" textLength="6.99" lengthAdjust="spacingAndGlyphs" transform="rotate(-90 15.75 264.49)">°</text>
</svg></body></html>
